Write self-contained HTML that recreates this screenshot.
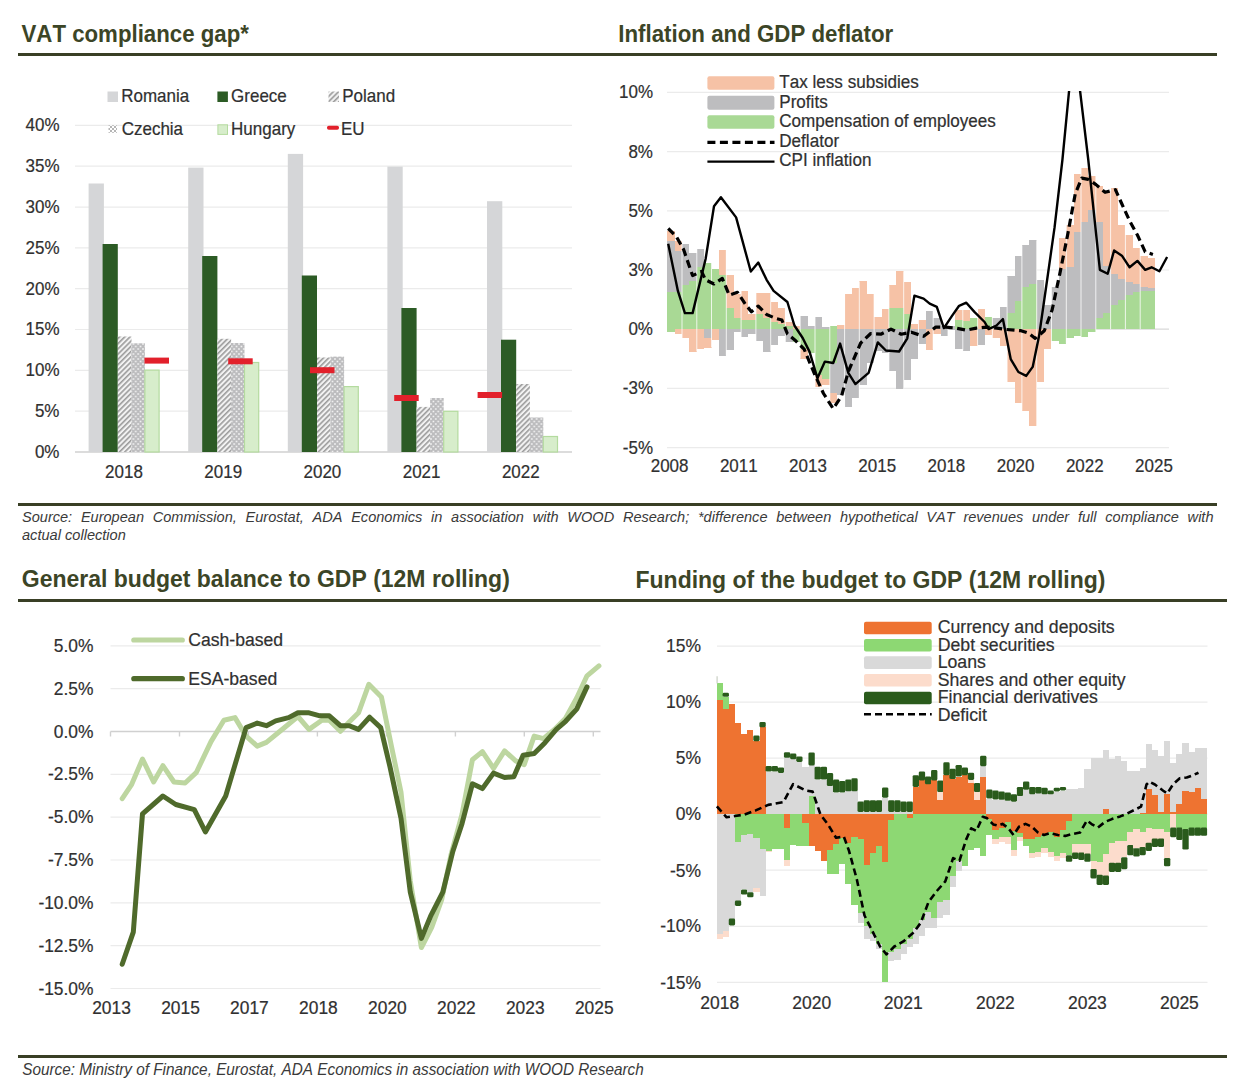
<!DOCTYPE html>
<html><head><meta charset="utf-8"><title>Charts</title>
<style>
html,body{margin:0;padding:0;background:#fff;}
body{width:1240px;height:1082px;position:relative;overflow:hidden;font-family:"Liberation Sans", Arial, sans-serif;}
svg{position:absolute;left:0;top:0;}
text,div{font-kerning:none;font-feature-settings:'kern' 0;}
.title{position:absolute;font-weight:bold;color:#3c4526;white-space:nowrap;line-height:1;}
.rule{position:absolute;height:3px;background:#393f25;}
.src{position:absolute;font-style:italic;color:#3a3a3a;}
</style></head><body>
<svg width="1240" height="1082" viewBox="0 0 1240 1082" font-family='"Liberation Sans", Arial, sans-serif'>
<text transform="translate(0 -1.88) scale(1 1.045)" x="21.5" y="41.8" font-size="22.25" text-anchor="start" fill="#3c4526" font-weight="bold" >VAT compliance gap*</text>
<defs>
<pattern id="pPol" patternUnits="userSpaceOnUse" width="3.7" height="3.7" patternTransform="rotate(-45)">
<rect width="3.7" height="3.7" fill="#f2f2f2"/><rect width="3.7" height="1.6" fill="#9c9c9c"/></pattern>
<pattern id="pCze" patternUnits="userSpaceOnUse" width="4.8" height="5">
<rect width="4.8" height="5" fill="#bcbcbe"/><rect x="0.6" y="0.7" width="1.6" height="1.6" fill="#f4f4f4"/><rect x="3" y="3.2" width="1.6" height="1.6" fill="#f4f4f4"/></pattern>
<pattern id="pCzeL" patternUnits="userSpaceOnUse" width="4" height="4">
<rect width="4" height="4" fill="#fff"/><rect width="2" height="2" fill="#b5b5b5"/><rect x="2" y="2" width="2" height="2" fill="#b5b5b5"/></pattern>
</defs>
<text transform="translate(0 -20.61) scale(1 1.045)" x="59.5" y="458.0" font-size="17" text-anchor="end" fill="#303030" stroke="#303030" stroke-width="0.2" >0%</text>
<line x1="75.0" y1="411.2" x2="572.0" y2="411.2" stroke="#ebebeb" stroke-width="1.2" />
<text transform="translate(0 -18.77) scale(1 1.045)" x="59.5" y="417.2" font-size="17" text-anchor="end" fill="#303030" stroke="#303030" stroke-width="0.2" >5%</text>
<line x1="75.0" y1="370.4" x2="572.0" y2="370.4" stroke="#ebebeb" stroke-width="1.2" />
<text transform="translate(0 -16.94) scale(1 1.045)" x="59.5" y="376.4" font-size="17" text-anchor="end" fill="#303030" stroke="#303030" stroke-width="0.2" >10%</text>
<line x1="75.0" y1="329.5" x2="572.0" y2="329.5" stroke="#ebebeb" stroke-width="1.2" />
<text transform="translate(0 -15.10) scale(1 1.045)" x="59.5" y="335.5" font-size="17" text-anchor="end" fill="#303030" stroke="#303030" stroke-width="0.2" >15%</text>
<line x1="75.0" y1="288.7" x2="572.0" y2="288.7" stroke="#ebebeb" stroke-width="1.2" />
<text transform="translate(0 -13.26) scale(1 1.045)" x="59.5" y="294.7" font-size="17" text-anchor="end" fill="#303030" stroke="#303030" stroke-width="0.2" >20%</text>
<line x1="75.0" y1="247.9" x2="572.0" y2="247.9" stroke="#ebebeb" stroke-width="1.2" />
<text transform="translate(0 -11.42) scale(1 1.045)" x="59.5" y="253.9" font-size="17" text-anchor="end" fill="#303030" stroke="#303030" stroke-width="0.2" >25%</text>
<line x1="75.0" y1="207.1" x2="572.0" y2="207.1" stroke="#ebebeb" stroke-width="1.2" />
<text transform="translate(0 -9.59) scale(1 1.045)" x="59.5" y="213.1" font-size="17" text-anchor="end" fill="#303030" stroke="#303030" stroke-width="0.2" >30%</text>
<line x1="75.0" y1="166.2" x2="572.0" y2="166.2" stroke="#ebebeb" stroke-width="1.2" />
<text transform="translate(0 -7.75) scale(1 1.045)" x="59.5" y="172.2" font-size="17" text-anchor="end" fill="#303030" stroke="#303030" stroke-width="0.2" >35%</text>
<line x1="75.0" y1="125.4" x2="572.0" y2="125.4" stroke="#ebebeb" stroke-width="1.2" />
<text transform="translate(0 -5.91) scale(1 1.045)" x="59.5" y="131.4" font-size="17" text-anchor="end" fill="#303030" stroke="#303030" stroke-width="0.2" >40%</text>
<line x1="75.0" y1="452.0" x2="572.0" y2="452.0" stroke="#d0d0d0" stroke-width="1.5" />
<rect x="88.60" y="183.50" width="15.30" height="268.50" fill="#d5d6d8" />
<rect x="102.60" y="244.00" width="15.20" height="208.00" fill="#2c5b25" />
<rect x="117.80" y="336.50" width="13.70" height="115.50" fill="url(#pPol)" />
<rect x="131.30" y="343.30" width="13.60" height="108.70" fill="url(#pCze)" />
<rect x="144.90" y="370.10" width="14.20" height="81.90" fill="#d7edcb" stroke="#b4db9f" stroke-width="1.2"/>
<rect x="144.50" y="357.60" width="24.50" height="6.00" fill="#e2202b" />
<text transform="translate(0 -21.51) scale(1 1.045)" x="124.0" y="478.0" font-size="17" text-anchor="middle" fill="#303030" stroke="#303030" stroke-width="0.2" >2018</text>
<rect x="188.20" y="167.60" width="15.30" height="284.40" fill="#d5d6d8" />
<rect x="202.20" y="256.00" width="15.20" height="196.00" fill="#2c5b25" />
<rect x="217.40" y="338.80" width="13.70" height="113.20" fill="url(#pPol)" />
<rect x="230.90" y="343.00" width="13.60" height="109.00" fill="url(#pCze)" />
<rect x="244.50" y="362.50" width="14.20" height="89.50" fill="#d7edcb" stroke="#b4db9f" stroke-width="1.2"/>
<rect x="228.20" y="358.30" width="24.50" height="6.00" fill="#e2202b" />
<text transform="translate(0 -21.51) scale(1 1.045)" x="223.2" y="478.0" font-size="17" text-anchor="middle" fill="#303030" stroke="#303030" stroke-width="0.2" >2019</text>
<rect x="287.80" y="153.90" width="15.30" height="298.10" fill="#d5d6d8" />
<rect x="301.80" y="275.50" width="15.20" height="176.50" fill="#2c5b25" />
<rect x="317.00" y="357.50" width="13.70" height="94.50" fill="url(#pPol)" />
<rect x="330.50" y="356.60" width="13.60" height="95.40" fill="url(#pCze)" />
<rect x="344.10" y="386.60" width="14.20" height="65.40" fill="#d7edcb" stroke="#b4db9f" stroke-width="1.2"/>
<rect x="310.00" y="367.20" width="24.50" height="6.00" fill="#e2202b" />
<text transform="translate(0 -21.51) scale(1 1.045)" x="322.4" y="478.0" font-size="17" text-anchor="middle" fill="#303030" stroke="#303030" stroke-width="0.2" >2020</text>
<rect x="387.40" y="166.60" width="15.30" height="285.40" fill="#d5d6d8" />
<rect x="401.40" y="308.00" width="15.20" height="144.00" fill="#2c5b25" />
<rect x="416.60" y="406.90" width="13.70" height="45.10" fill="url(#pPol)" />
<rect x="430.10" y="398.00" width="13.60" height="54.00" fill="url(#pCze)" />
<rect x="443.70" y="411.30" width="14.20" height="40.70" fill="#d7edcb" stroke="#b4db9f" stroke-width="1.2"/>
<rect x="394.20" y="395.00" width="24.50" height="6.00" fill="#e2202b" />
<text transform="translate(0 -21.51) scale(1 1.045)" x="421.6" y="478.0" font-size="17" text-anchor="middle" fill="#303030" stroke="#303030" stroke-width="0.2" >2021</text>
<rect x="487.00" y="201.20" width="15.30" height="250.80" fill="#d5d6d8" />
<rect x="501.00" y="339.70" width="15.20" height="112.30" fill="#2c5b25" />
<rect x="516.20" y="384.00" width="13.70" height="68.00" fill="url(#pPol)" />
<rect x="529.70" y="417.50" width="13.60" height="34.50" fill="url(#pCze)" />
<rect x="543.30" y="436.50" width="14.20" height="15.50" fill="#d7edcb" stroke="#b4db9f" stroke-width="1.2"/>
<rect x="477.60" y="392.00" width="24.50" height="6.00" fill="#e2202b" />
<text transform="translate(0 -21.51) scale(1 1.045)" x="520.8" y="478.0" font-size="17" text-anchor="middle" fill="#303030" stroke="#303030" stroke-width="0.2" >2022</text>
<rect x="107.50" y="91.50" width="10.50" height="10.50" fill="#d5d6d8" />
<text transform="translate(0 -4.59) scale(1 1.045)" x="121.2" y="101.9" font-size="17" text-anchor="start" fill="#303030" stroke="#303030" stroke-width="0.2" >Romania</text>
<rect x="217.40" y="91.50" width="10.50" height="10.50" fill="#2c5b25" />
<text transform="translate(0 -4.59) scale(1 1.045)" x="231.1" y="101.9" font-size="17" text-anchor="start" fill="#303030" stroke="#303030" stroke-width="0.2" >Greece</text>
<rect x="328.50" y="91.50" width="10.50" height="10.50" fill="url(#pPol)" />
<text transform="translate(0 -4.59) scale(1 1.045)" x="342.2" y="101.9" font-size="17" text-anchor="start" fill="#303030" stroke="#303030" stroke-width="0.2" >Poland</text>
<rect x="108.50" y="125.30" width="8.50" height="7.50" fill="url(#pCzeL)" />
<text transform="translate(0 -6.06) scale(1 1.045)" x="121.7" y="134.7" font-size="17" text-anchor="start" fill="#303030" stroke="#303030" stroke-width="0.2" >Czechia</text>
<rect x="217.90" y="124.80" width="9.60" height="9.60" fill="#d7edcb" stroke="#b4db9f" stroke-width="1"/>
<text transform="translate(0 -6.06) scale(1 1.045)" x="231.1" y="134.7" font-size="17" text-anchor="start" fill="#303030" stroke="#303030" stroke-width="0.2" >Hungary</text>
<rect x="327.00" y="125.80" width="12.00" height="4.00" fill="#e2202b" rx="1.8"/>
<text transform="translate(0 -6.06) scale(1 1.045)" x="341.0" y="134.7" font-size="17" text-anchor="start" fill="#303030" stroke="#303030" stroke-width="0.2" >EU</text>
<text transform="translate(0 -1.88) scale(1 1.045)" x="618.3" y="41.8" font-size="22.3" text-anchor="start" fill="#3c4526" font-weight="bold" >Inflation and GDP deflator</text>
<line x1="667.0" y1="92.4" x2="1169.0" y2="92.4" stroke="#ebebeb" stroke-width="1.2" />
<text transform="translate(0 -4.43) scale(1 1.045)" x="653.0" y="98.4" font-size="17" text-anchor="end" fill="#303030" stroke="#303030" stroke-width="0.2" >10%</text>
<line x1="667.0" y1="151.6" x2="1169.0" y2="151.6" stroke="#ebebeb" stroke-width="1.2" />
<text transform="translate(0 -7.09) scale(1 1.045)" x="653.0" y="157.6" font-size="17" text-anchor="end" fill="#303030" stroke="#303030" stroke-width="0.2" >8%</text>
<line x1="667.0" y1="210.8" x2="1169.0" y2="210.8" stroke="#ebebeb" stroke-width="1.2" />
<text transform="translate(0 -9.76) scale(1 1.045)" x="653.0" y="216.8" font-size="17" text-anchor="end" fill="#303030" stroke="#303030" stroke-width="0.2" >5%</text>
<line x1="667.0" y1="270.0" x2="1169.0" y2="270.0" stroke="#ebebeb" stroke-width="1.2" />
<text transform="translate(0 -12.42) scale(1 1.045)" x="653.0" y="276.0" font-size="17" text-anchor="end" fill="#303030" stroke="#303030" stroke-width="0.2" >3%</text>
<line x1="667.0" y1="329.2" x2="1169.0" y2="329.2" stroke="#d9d9d9" stroke-width="1.2" />
<text transform="translate(0 -15.08) scale(1 1.045)" x="653.0" y="335.2" font-size="17" text-anchor="end" fill="#303030" stroke="#303030" stroke-width="0.2" >0%</text>
<line x1="667.0" y1="388.4" x2="1169.0" y2="388.4" stroke="#ebebeb" stroke-width="1.2" />
<text transform="translate(0 -17.75) scale(1 1.045)" x="653.0" y="394.4" font-size="17" text-anchor="end" fill="#303030" stroke="#303030" stroke-width="0.2" >-3%</text>
<line x1="667.0" y1="447.6" x2="1169.0" y2="447.6" stroke="#ebebeb" stroke-width="1.2" />
<text transform="translate(0 -20.41) scale(1 1.045)" x="653.0" y="453.6" font-size="17" text-anchor="end" fill="#303030" stroke="#303030" stroke-width="0.2" >-5%</text>
<text transform="translate(0 -21.23) scale(1 1.045)" x="669.6" y="471.8" font-size="17" text-anchor="middle" fill="#303030" stroke="#303030" stroke-width="0.2" >2008</text>
<text transform="translate(0 -21.23) scale(1 1.045)" x="738.8" y="471.8" font-size="17" text-anchor="middle" fill="#303030" stroke="#303030" stroke-width="0.2" >2011</text>
<text transform="translate(0 -21.23) scale(1 1.045)" x="808.0" y="471.8" font-size="17" text-anchor="middle" fill="#303030" stroke="#303030" stroke-width="0.2" >2013</text>
<text transform="translate(0 -21.23) scale(1 1.045)" x="877.2" y="471.8" font-size="17" text-anchor="middle" fill="#303030" stroke="#303030" stroke-width="0.2" >2015</text>
<text transform="translate(0 -21.23) scale(1 1.045)" x="946.4" y="471.8" font-size="17" text-anchor="middle" fill="#303030" stroke="#303030" stroke-width="0.2" >2018</text>
<text transform="translate(0 -21.23) scale(1 1.045)" x="1015.6" y="471.8" font-size="17" text-anchor="middle" fill="#303030" stroke="#303030" stroke-width="0.2" >2020</text>
<text transform="translate(0 -21.23) scale(1 1.045)" x="1084.8" y="471.8" font-size="17" text-anchor="middle" fill="#303030" stroke="#303030" stroke-width="0.2" >2022</text>
<text transform="translate(0 -21.23) scale(1 1.045)" x="1154.0" y="471.8" font-size="17" text-anchor="middle" fill="#303030" stroke="#303030" stroke-width="0.2" >2025</text>
<rect x="667.20" y="291.50" width="7.39" height="37.70" fill="#a9d995" shape-rendering="crispEdges"/>
<rect x="667.20" y="240.70" width="7.39" height="50.80" fill="#bdbdbf" shape-rendering="crispEdges"/>
<rect x="667.20" y="230.50" width="7.39" height="10.20" fill="#f6c2a6" shape-rendering="crispEdges"/>
<rect x="667.20" y="329.20" width="7.39" height="3.00" fill="#a9d995" shape-rendering="crispEdges"/>
<rect x="674.59" y="291.50" width="7.39" height="37.70" fill="#a9d995" shape-rendering="crispEdges"/>
<rect x="674.59" y="250.80" width="7.39" height="40.70" fill="#bdbdbf" shape-rendering="crispEdges"/>
<rect x="674.59" y="240.70" width="7.39" height="10.10" fill="#f6c2a6" shape-rendering="crispEdges"/>
<rect x="674.59" y="329.20" width="7.39" height="5.00" fill="#f6c2a6" shape-rendering="crispEdges"/>
<rect x="681.98" y="285.40" width="7.39" height="43.80" fill="#a9d995" shape-rendering="crispEdges"/>
<rect x="681.98" y="243.70" width="7.39" height="41.70" fill="#bdbdbf" shape-rendering="crispEdges"/>
<rect x="681.98" y="329.20" width="7.39" height="9.10" fill="#f6c2a6" shape-rendering="crispEdges"/>
<rect x="689.37" y="281.30" width="7.39" height="47.90" fill="#a9d995" shape-rendering="crispEdges"/>
<rect x="689.37" y="252.90" width="7.39" height="28.40" fill="#bdbdbf" shape-rendering="crispEdges"/>
<rect x="689.37" y="329.20" width="7.39" height="22.30" fill="#f6c2a6" shape-rendering="crispEdges"/>
<rect x="696.76" y="267.10" width="7.39" height="62.10" fill="#a9d995" shape-rendering="crispEdges"/>
<rect x="696.76" y="248.80" width="7.39" height="18.30" fill="#bdbdbf" shape-rendering="crispEdges"/>
<rect x="696.76" y="329.20" width="7.39" height="19.30" fill="#f6c2a6" shape-rendering="crispEdges"/>
<rect x="704.15" y="263.00" width="7.39" height="66.20" fill="#a9d995" shape-rendering="crispEdges"/>
<rect x="704.15" y="329.20" width="7.39" height="9.10" fill="#bdbdbf" shape-rendering="crispEdges"/>
<rect x="704.15" y="338.30" width="7.39" height="9.20" fill="#f6c2a6" shape-rendering="crispEdges"/>
<rect x="711.54" y="269.10" width="7.39" height="60.10" fill="#a9d995" shape-rendering="crispEdges"/>
<rect x="711.54" y="329.20" width="7.39" height="11.10" fill="#f6c2a6" shape-rendering="crispEdges"/>
<rect x="718.93" y="275.20" width="7.39" height="54.00" fill="#a9d995" shape-rendering="crispEdges"/>
<rect x="718.93" y="249.80" width="7.39" height="25.40" fill="#f6c2a6" shape-rendering="crispEdges"/>
<rect x="718.93" y="329.20" width="7.39" height="26.40" fill="#bdbdbf" shape-rendering="crispEdges"/>
<rect x="726.32" y="307.80" width="7.39" height="21.40" fill="#a9d995" shape-rendering="crispEdges"/>
<rect x="726.32" y="275.20" width="7.39" height="32.60" fill="#f6c2a6" shape-rendering="crispEdges"/>
<rect x="726.32" y="329.20" width="7.39" height="20.30" fill="#bdbdbf" shape-rendering="crispEdges"/>
<rect x="733.71" y="318.00" width="7.39" height="11.20" fill="#a9d995" shape-rendering="crispEdges"/>
<rect x="733.71" y="293.60" width="7.39" height="24.40" fill="#f6c2a6" shape-rendering="crispEdges"/>
<rect x="733.71" y="329.20" width="7.39" height="3.00" fill="#bdbdbf" shape-rendering="crispEdges"/>
<rect x="741.10" y="320.00" width="7.39" height="9.20" fill="#a9d995" shape-rendering="crispEdges"/>
<rect x="741.10" y="290.50" width="7.39" height="29.50" fill="#f6c2a6" shape-rendering="crispEdges"/>
<rect x="741.10" y="329.20" width="7.39" height="8.10" fill="#bdbdbf" shape-rendering="crispEdges"/>
<rect x="748.49" y="320.00" width="7.39" height="9.20" fill="#a9d995" shape-rendering="crispEdges"/>
<rect x="748.49" y="313.90" width="7.39" height="6.10" fill="#f6c2a6" shape-rendering="crispEdges"/>
<rect x="748.49" y="329.20" width="7.39" height="5.00" fill="#bdbdbf" shape-rendering="crispEdges"/>
<rect x="755.88" y="313.90" width="7.39" height="15.30" fill="#a9d995" shape-rendering="crispEdges"/>
<rect x="755.88" y="292.50" width="7.39" height="21.40" fill="#f6c2a6" shape-rendering="crispEdges"/>
<rect x="755.88" y="329.20" width="7.39" height="12.10" fill="#bdbdbf" shape-rendering="crispEdges"/>
<rect x="763.27" y="318.00" width="7.39" height="11.20" fill="#a9d995" shape-rendering="crispEdges"/>
<rect x="763.27" y="292.50" width="7.39" height="25.50" fill="#f6c2a6" shape-rendering="crispEdges"/>
<rect x="763.27" y="329.20" width="7.39" height="22.30" fill="#bdbdbf" shape-rendering="crispEdges"/>
<rect x="770.66" y="322.00" width="7.39" height="7.20" fill="#a9d995" shape-rendering="crispEdges"/>
<rect x="770.66" y="301.70" width="7.39" height="20.30" fill="#f6c2a6" shape-rendering="crispEdges"/>
<rect x="770.66" y="329.20" width="7.39" height="16.20" fill="#bdbdbf" shape-rendering="crispEdges"/>
<rect x="778.05" y="324.00" width="7.39" height="5.20" fill="#a9d995" shape-rendering="crispEdges"/>
<rect x="778.05" y="307.80" width="7.39" height="16.20" fill="#f6c2a6" shape-rendering="crispEdges"/>
<rect x="778.05" y="329.20" width="7.39" height="7.10" fill="#bdbdbf" shape-rendering="crispEdges"/>
<rect x="785.44" y="326.10" width="7.39" height="3.10" fill="#a9d995" shape-rendering="crispEdges"/>
<rect x="785.44" y="322.00" width="7.39" height="4.10" fill="#f6c2a6" shape-rendering="crispEdges"/>
<rect x="785.44" y="329.20" width="7.39" height="13.20" fill="#bdbdbf" shape-rendering="crispEdges"/>
<rect x="792.83" y="326.10" width="7.39" height="3.10" fill="#f6c2a6" shape-rendering="crispEdges"/>
<rect x="792.83" y="329.20" width="7.39" height="13.20" fill="#a9d995" shape-rendering="crispEdges"/>
<rect x="800.22" y="315.90" width="7.39" height="13.30" fill="#bdbdbf" shape-rendering="crispEdges"/>
<rect x="800.22" y="329.20" width="7.39" height="19.30" fill="#a9d995" shape-rendering="crispEdges"/>
<rect x="800.22" y="348.50" width="7.39" height="10.10" fill="#f6c2a6" shape-rendering="crispEdges"/>
<rect x="807.61" y="326.10" width="7.39" height="3.10" fill="#bdbdbf" shape-rendering="crispEdges"/>
<rect x="807.61" y="329.20" width="7.39" height="23.30" fill="#a9d995" shape-rendering="crispEdges"/>
<rect x="815.00" y="316.90" width="7.39" height="12.30" fill="#bdbdbf" shape-rendering="crispEdges"/>
<rect x="815.00" y="329.20" width="7.39" height="45.70" fill="#a9d995" shape-rendering="crispEdges"/>
<rect x="815.00" y="374.90" width="7.39" height="12.20" fill="#f6c2a6" shape-rendering="crispEdges"/>
<rect x="822.39" y="327.10" width="7.39" height="2.10" fill="#bdbdbf" shape-rendering="crispEdges"/>
<rect x="822.39" y="329.20" width="7.39" height="49.80" fill="#a9d995" shape-rendering="crispEdges"/>
<rect x="822.39" y="379.00" width="7.39" height="6.10" fill="#f6c2a6" shape-rendering="crispEdges"/>
<rect x="829.78" y="326.10" width="7.39" height="3.10" fill="#a9d995" shape-rendering="crispEdges"/>
<rect x="829.78" y="329.20" width="7.39" height="33.50" fill="#a9d995" shape-rendering="crispEdges"/>
<rect x="829.78" y="362.70" width="7.39" height="30.50" fill="#bdbdbf" shape-rendering="crispEdges"/>
<rect x="829.78" y="393.20" width="7.39" height="10.20" fill="#f6c2a6" shape-rendering="crispEdges"/>
<rect x="837.17" y="325.10" width="7.39" height="4.10" fill="#f6c2a6" shape-rendering="crispEdges"/>
<rect x="837.17" y="329.20" width="7.39" height="66.00" fill="#bdbdbf" shape-rendering="crispEdges"/>
<rect x="844.56" y="293.60" width="7.39" height="35.60" fill="#f6c2a6" shape-rendering="crispEdges"/>
<rect x="844.56" y="329.20" width="7.39" height="78.20" fill="#bdbdbf" shape-rendering="crispEdges"/>
<rect x="851.95" y="287.50" width="7.39" height="41.70" fill="#f6c2a6" shape-rendering="crispEdges"/>
<rect x="851.95" y="329.20" width="7.39" height="69.10" fill="#bdbdbf" shape-rendering="crispEdges"/>
<rect x="859.34" y="281.40" width="7.39" height="47.80" fill="#f6c2a6" shape-rendering="crispEdges"/>
<rect x="859.34" y="329.20" width="7.39" height="55.90" fill="#bdbdbf" shape-rendering="crispEdges"/>
<rect x="866.73" y="293.60" width="7.39" height="35.60" fill="#f6c2a6" shape-rendering="crispEdges"/>
<rect x="866.73" y="329.20" width="7.39" height="33.50" fill="#bdbdbf" shape-rendering="crispEdges"/>
<rect x="874.12" y="316.90" width="7.39" height="12.30" fill="#f6c2a6" shape-rendering="crispEdges"/>
<rect x="874.12" y="329.20" width="7.39" height="21.30" fill="#bdbdbf" shape-rendering="crispEdges"/>
<rect x="881.51" y="308.80" width="7.39" height="20.40" fill="#f6c2a6" shape-rendering="crispEdges"/>
<rect x="881.51" y="329.20" width="7.39" height="23.30" fill="#bdbdbf" shape-rendering="crispEdges"/>
<rect x="888.90" y="307.80" width="7.39" height="21.40" fill="#a9d995" shape-rendering="crispEdges"/>
<rect x="888.90" y="285.40" width="7.39" height="22.40" fill="#f6c2a6" shape-rendering="crispEdges"/>
<rect x="888.90" y="329.20" width="7.39" height="41.60" fill="#bdbdbf" shape-rendering="crispEdges"/>
<rect x="896.29" y="307.80" width="7.39" height="21.40" fill="#a9d995" shape-rendering="crispEdges"/>
<rect x="896.29" y="271.20" width="7.39" height="36.60" fill="#f6c2a6" shape-rendering="crispEdges"/>
<rect x="896.29" y="329.20" width="7.39" height="59.90" fill="#bdbdbf" shape-rendering="crispEdges"/>
<rect x="903.68" y="313.90" width="7.39" height="15.30" fill="#a9d995" shape-rendering="crispEdges"/>
<rect x="903.68" y="282.40" width="7.39" height="31.50" fill="#f6c2a6" shape-rendering="crispEdges"/>
<rect x="903.68" y="329.20" width="7.39" height="50.80" fill="#bdbdbf" shape-rendering="crispEdges"/>
<rect x="911.07" y="324.10" width="7.39" height="5.10" fill="#f6c2a6" shape-rendering="crispEdges"/>
<rect x="911.07" y="329.20" width="7.39" height="29.40" fill="#bdbdbf" shape-rendering="crispEdges"/>
<rect x="918.46" y="320.00" width="7.39" height="9.20" fill="#f6c2a6" shape-rendering="crispEdges"/>
<rect x="918.46" y="329.20" width="7.39" height="15.20" fill="#bdbdbf" shape-rendering="crispEdges"/>
<rect x="925.85" y="310.80" width="7.39" height="18.40" fill="#bdbdbf" shape-rendering="crispEdges"/>
<rect x="925.85" y="329.20" width="7.39" height="20.30" fill="#f6c2a6" shape-rendering="crispEdges"/>
<rect x="933.24" y="318.00" width="7.39" height="11.20" fill="#bdbdbf" shape-rendering="crispEdges"/>
<rect x="933.24" y="329.20" width="7.39" height="5.00" fill="#f6c2a6" shape-rendering="crispEdges"/>
<rect x="940.63" y="326.10" width="7.39" height="3.10" fill="#bdbdbf" shape-rendering="crispEdges"/>
<rect x="940.63" y="329.20" width="7.39" height="7.10" fill="#bdbdbf" shape-rendering="crispEdges"/>
<rect x="948.02" y="326.10" width="7.39" height="3.10" fill="#bdbdbf" shape-rendering="crispEdges"/>
<rect x="948.02" y="329.20" width="7.39" height="1.00" fill="#bdbdbf" shape-rendering="crispEdges"/>
<rect x="955.41" y="320.00" width="7.39" height="9.20" fill="#a9d995" shape-rendering="crispEdges"/>
<rect x="955.41" y="309.80" width="7.39" height="10.20" fill="#f6c2a6" shape-rendering="crispEdges"/>
<rect x="955.41" y="329.20" width="7.39" height="19.30" fill="#bdbdbf" shape-rendering="crispEdges"/>
<rect x="962.80" y="321.00" width="7.39" height="8.20" fill="#a9d995" shape-rendering="crispEdges"/>
<rect x="962.80" y="309.80" width="7.39" height="11.20" fill="#f6c2a6" shape-rendering="crispEdges"/>
<rect x="962.80" y="329.20" width="7.39" height="21.30" fill="#bdbdbf" shape-rendering="crispEdges"/>
<rect x="970.19" y="318.00" width="7.39" height="11.20" fill="#a9d995" shape-rendering="crispEdges"/>
<rect x="970.19" y="329.20" width="7.39" height="17.20" fill="#f6c2a6" shape-rendering="crispEdges"/>
<rect x="977.58" y="308.80" width="7.39" height="20.40" fill="#f6c2a6" shape-rendering="crispEdges"/>
<rect x="977.58" y="329.20" width="7.39" height="16.20" fill="#bdbdbf" shape-rendering="crispEdges"/>
<rect x="984.97" y="316.90" width="7.39" height="12.30" fill="#a9d995" shape-rendering="crispEdges"/>
<rect x="984.97" y="329.20" width="7.39" height="6.00" fill="#f6c2a6" shape-rendering="crispEdges"/>
<rect x="992.36" y="317.70" width="7.39" height="11.50" fill="#bdbdbf" shape-rendering="crispEdges"/>
<rect x="992.36" y="329.20" width="7.39" height="9.20" fill="#f6c2a6" shape-rendering="crispEdges"/>
<rect x="999.75" y="307.40" width="7.39" height="21.80" fill="#bdbdbf" shape-rendering="crispEdges"/>
<rect x="999.75" y="329.20" width="7.39" height="17.00" fill="#f6c2a6" shape-rendering="crispEdges"/>
<rect x="1007.14" y="312.60" width="7.39" height="16.60" fill="#a9d995" shape-rendering="crispEdges"/>
<rect x="1007.14" y="276.40" width="7.39" height="36.20" fill="#bdbdbf" shape-rendering="crispEdges"/>
<rect x="1007.14" y="329.20" width="7.39" height="53.20" fill="#f6c2a6" shape-rendering="crispEdges"/>
<rect x="1014.53" y="300.90" width="7.39" height="28.30" fill="#a9d995" shape-rendering="crispEdges"/>
<rect x="1014.53" y="255.70" width="7.39" height="45.20" fill="#bdbdbf" shape-rendering="crispEdges"/>
<rect x="1014.53" y="329.20" width="7.39" height="73.90" fill="#f6c2a6" shape-rendering="crispEdges"/>
<rect x="1021.92" y="286.70" width="7.39" height="42.50" fill="#a9d995" shape-rendering="crispEdges"/>
<rect x="1021.92" y="245.30" width="7.39" height="41.40" fill="#bdbdbf" shape-rendering="crispEdges"/>
<rect x="1021.92" y="329.20" width="7.39" height="81.60" fill="#f6c2a6" shape-rendering="crispEdges"/>
<rect x="1029.31" y="284.10" width="7.39" height="45.10" fill="#a9d995" shape-rendering="crispEdges"/>
<rect x="1029.31" y="240.20" width="7.39" height="43.90" fill="#bdbdbf" shape-rendering="crispEdges"/>
<rect x="1029.31" y="329.20" width="7.39" height="97.20" fill="#f6c2a6" shape-rendering="crispEdges"/>
<rect x="1036.70" y="280.20" width="7.39" height="49.00" fill="#bdbdbf" shape-rendering="crispEdges"/>
<rect x="1036.70" y="329.20" width="7.39" height="53.20" fill="#f6c2a6" shape-rendering="crispEdges"/>
<rect x="1044.09" y="304.80" width="7.39" height="24.40" fill="#bdbdbf" shape-rendering="crispEdges"/>
<rect x="1044.09" y="329.20" width="7.39" height="19.60" fill="#f6c2a6" shape-rendering="crispEdges"/>
<rect x="1051.48" y="286.70" width="7.39" height="42.50" fill="#bdbdbf" shape-rendering="crispEdges"/>
<rect x="1051.48" y="329.20" width="7.39" height="11.80" fill="#a9d995" shape-rendering="crispEdges"/>
<rect x="1058.87" y="268.60" width="7.39" height="60.60" fill="#bdbdbf" shape-rendering="crispEdges"/>
<rect x="1058.87" y="237.60" width="7.39" height="31.00" fill="#f6c2a6" shape-rendering="crispEdges"/>
<rect x="1058.87" y="329.20" width="7.39" height="14.40" fill="#a9d995" shape-rendering="crispEdges"/>
<rect x="1066.26" y="267.30" width="7.39" height="61.90" fill="#bdbdbf" shape-rendering="crispEdges"/>
<rect x="1066.26" y="224.60" width="7.39" height="42.70" fill="#f6c2a6" shape-rendering="crispEdges"/>
<rect x="1066.26" y="329.20" width="7.39" height="9.20" fill="#a9d995" shape-rendering="crispEdges"/>
<rect x="1073.65" y="232.40" width="7.39" height="96.80" fill="#bdbdbf" shape-rendering="crispEdges"/>
<rect x="1073.65" y="174.20" width="7.39" height="58.20" fill="#f6c2a6" shape-rendering="crispEdges"/>
<rect x="1073.65" y="329.20" width="7.39" height="6.60" fill="#a9d995" shape-rendering="crispEdges"/>
<rect x="1081.04" y="222.10" width="7.39" height="107.10" fill="#bdbdbf" shape-rendering="crispEdges"/>
<rect x="1081.04" y="167.80" width="7.39" height="54.30" fill="#f6c2a6" shape-rendering="crispEdges"/>
<rect x="1081.04" y="329.20" width="7.39" height="7.90" fill="#a9d995" shape-rendering="crispEdges"/>
<rect x="1088.43" y="210.40" width="7.39" height="118.80" fill="#bdbdbf" shape-rendering="crispEdges"/>
<rect x="1088.43" y="175.50" width="7.39" height="34.90" fill="#f6c2a6" shape-rendering="crispEdges"/>
<rect x="1088.43" y="329.20" width="7.39" height="2.80" fill="#a9d995" shape-rendering="crispEdges"/>
<rect x="1095.82" y="317.70" width="7.39" height="11.50" fill="#a9d995" shape-rendering="crispEdges"/>
<rect x="1095.82" y="222.10" width="7.39" height="95.60" fill="#bdbdbf" shape-rendering="crispEdges"/>
<rect x="1095.82" y="185.90" width="7.39" height="36.20" fill="#f6c2a6" shape-rendering="crispEdges"/>
<rect x="1103.21" y="312.60" width="7.39" height="16.60" fill="#a9d995" shape-rendering="crispEdges"/>
<rect x="1103.21" y="266.00" width="7.39" height="46.60" fill="#bdbdbf" shape-rendering="crispEdges"/>
<rect x="1103.21" y="191.00" width="7.39" height="75.00" fill="#f6c2a6" shape-rendering="crispEdges"/>
<rect x="1110.60" y="304.80" width="7.39" height="24.40" fill="#a9d995" shape-rendering="crispEdges"/>
<rect x="1110.60" y="273.80" width="7.39" height="31.00" fill="#bdbdbf" shape-rendering="crispEdges"/>
<rect x="1110.60" y="188.40" width="7.39" height="85.40" fill="#f6c2a6" shape-rendering="crispEdges"/>
<rect x="1117.99" y="299.60" width="7.39" height="29.60" fill="#a9d995" shape-rendering="crispEdges"/>
<rect x="1117.99" y="279.00" width="7.39" height="20.60" fill="#bdbdbf" shape-rendering="crispEdges"/>
<rect x="1117.99" y="224.60" width="7.39" height="54.40" fill="#f6c2a6" shape-rendering="crispEdges"/>
<rect x="1125.38" y="294.50" width="7.39" height="34.70" fill="#a9d995" shape-rendering="crispEdges"/>
<rect x="1125.38" y="281.50" width="7.39" height="13.00" fill="#bdbdbf" shape-rendering="crispEdges"/>
<rect x="1125.38" y="235.00" width="7.39" height="46.50" fill="#f6c2a6" shape-rendering="crispEdges"/>
<rect x="1132.77" y="291.90" width="7.39" height="37.30" fill="#a9d995" shape-rendering="crispEdges"/>
<rect x="1132.77" y="284.10" width="7.39" height="7.80" fill="#bdbdbf" shape-rendering="crispEdges"/>
<rect x="1132.77" y="247.90" width="7.39" height="36.20" fill="#f6c2a6" shape-rendering="crispEdges"/>
<rect x="1140.16" y="290.60" width="7.39" height="38.60" fill="#a9d995" shape-rendering="crispEdges"/>
<rect x="1140.16" y="286.70" width="7.39" height="3.90" fill="#bdbdbf" shape-rendering="crispEdges"/>
<rect x="1140.16" y="255.70" width="7.39" height="31.00" fill="#f6c2a6" shape-rendering="crispEdges"/>
<rect x="1147.55" y="290.60" width="7.39" height="38.60" fill="#a9d995" shape-rendering="crispEdges"/>
<rect x="1147.55" y="288.00" width="7.39" height="2.60" fill="#bdbdbf" shape-rendering="crispEdges"/>
<rect x="1147.55" y="258.30" width="7.39" height="29.70" fill="#f6c2a6" shape-rendering="crispEdges"/>
<line x1="682.0" y1="240.7" x2="682.0" y2="338.3" stroke="#ffffff" stroke-width="1" opacity="0.8"/>
<line x1="696.8" y1="248.8" x2="696.8" y2="351.5" stroke="#ffffff" stroke-width="1" opacity="0.8"/>
<line x1="711.5" y1="263.0" x2="711.5" y2="347.5" stroke="#ffffff" stroke-width="1" opacity="0.8"/>
<line x1="726.3" y1="249.8" x2="726.3" y2="355.6" stroke="#ffffff" stroke-width="1" opacity="0.8"/>
<line x1="741.1" y1="290.5" x2="741.1" y2="337.3" stroke="#ffffff" stroke-width="1" opacity="0.8"/>
<line x1="755.9" y1="292.5" x2="755.9" y2="341.3" stroke="#ffffff" stroke-width="1" opacity="0.8"/>
<line x1="770.7" y1="292.5" x2="770.7" y2="351.5" stroke="#ffffff" stroke-width="1" opacity="0.8"/>
<line x1="785.4" y1="307.8" x2="785.4" y2="342.4" stroke="#ffffff" stroke-width="1" opacity="0.8"/>
<line x1="800.2" y1="315.9" x2="800.2" y2="358.6" stroke="#ffffff" stroke-width="1" opacity="0.8"/>
<line x1="815.0" y1="316.9" x2="815.0" y2="387.1" stroke="#ffffff" stroke-width="1" opacity="0.8"/>
<line x1="829.8" y1="326.1" x2="829.8" y2="403.4" stroke="#ffffff" stroke-width="1" opacity="0.8"/>
<line x1="844.6" y1="293.6" x2="844.6" y2="407.4" stroke="#ffffff" stroke-width="1" opacity="0.8"/>
<line x1="859.3" y1="281.4" x2="859.3" y2="398.3" stroke="#ffffff" stroke-width="1" opacity="0.8"/>
<line x1="874.1" y1="293.6" x2="874.1" y2="362.7" stroke="#ffffff" stroke-width="1" opacity="0.8"/>
<line x1="888.9" y1="285.4" x2="888.9" y2="370.8" stroke="#ffffff" stroke-width="1" opacity="0.8"/>
<line x1="903.7" y1="271.2" x2="903.7" y2="389.1" stroke="#ffffff" stroke-width="1" opacity="0.8"/>
<line x1="918.5" y1="320.0" x2="918.5" y2="358.6" stroke="#ffffff" stroke-width="1" opacity="0.8"/>
<line x1="933.2" y1="310.8" x2="933.2" y2="349.5" stroke="#ffffff" stroke-width="1" opacity="0.8"/>
<line x1="948.0" y1="326.1" x2="948.0" y2="336.3" stroke="#ffffff" stroke-width="1" opacity="0.8"/>
<line x1="962.8" y1="309.8" x2="962.8" y2="350.5" stroke="#ffffff" stroke-width="1" opacity="0.8"/>
<line x1="977.6" y1="308.8" x2="977.6" y2="346.4" stroke="#ffffff" stroke-width="1" opacity="0.8"/>
<line x1="992.4" y1="316.9" x2="992.4" y2="338.4" stroke="#ffffff" stroke-width="1" opacity="0.8"/>
<line x1="1007.1" y1="276.4" x2="1007.1" y2="382.4" stroke="#ffffff" stroke-width="1" opacity="0.8"/>
<line x1="1021.9" y1="245.3" x2="1021.9" y2="410.8" stroke="#ffffff" stroke-width="1" opacity="0.8"/>
<line x1="1036.7" y1="240.2" x2="1036.7" y2="426.4" stroke="#ffffff" stroke-width="1" opacity="0.8"/>
<line x1="1051.5" y1="286.7" x2="1051.5" y2="348.8" stroke="#ffffff" stroke-width="1" opacity="0.8"/>
<line x1="1066.3" y1="224.6" x2="1066.3" y2="343.6" stroke="#ffffff" stroke-width="1" opacity="0.8"/>
<line x1="1081.0" y1="167.8" x2="1081.0" y2="337.1" stroke="#ffffff" stroke-width="1" opacity="0.8"/>
<line x1="1095.8" y1="175.5" x2="1095.8" y2="332.0" stroke="#ffffff" stroke-width="1" opacity="0.8"/>
<line x1="1110.6" y1="188.4" x2="1110.6" y2="329.2" stroke="#ffffff" stroke-width="1" opacity="0.8"/>
<line x1="1125.4" y1="224.6" x2="1125.4" y2="329.2" stroke="#ffffff" stroke-width="1" opacity="0.8"/>
<line x1="1140.2" y1="247.9" x2="1140.2" y2="329.2" stroke="#ffffff" stroke-width="1" opacity="0.8"/>
<clipPath id="c2"><rect x="600" y="91" width="600" height="380"/></clipPath>
<polyline points="668.2,228.5 676.5,236.8 683.5,249.3 692.6,275.6 701.5,271.5 705.6,279.8 714.0,284.0 722.3,278.4 729.2,295.1 737.5,292.3 745.8,304.8 751.4,311.7 758.3,306.1 766.6,314.5 776.3,318.6 781.9,320.0 787.4,333.9 795.7,340.8 804.1,349.1 815.2,375.5 823.5,393.5 833.2,408.7 841.5,396.2 848.4,371.3 860.7,343.0 870.7,333.5 880.8,334.2 891.0,329.1 901.2,334.2 911.3,332.2 923.6,336.3 935.8,327.1 945.9,327.1 956.1,328.1 966.3,330.2 976.4,328.1 986.6,327.1 996.8,328.1 1005.5,329.4 1021.0,330.7 1028.8,333.3 1035.3,338.4 1044.3,330.7 1052.1,310.0 1059.8,273.8 1067.6,235.0 1075.3,193.6 1081.8,178.1 1088.3,179.4 1096.0,184.6 1105.1,192.3 1115.4,189.7 1121.9,204.0 1129.6,220.8 1137.4,235.0 1145.2,251.8 1152.9,254.4" fill="none" stroke="#000" stroke-width="3.2" stroke-linejoin="round" stroke-dasharray="8,4.5"/>
<polyline points="668.2,243.8 677.9,290.9 684.9,313.1 692.6,313.1 705.6,259.0 714.0,206.3 720.9,197.2 736.1,217.4 750.8,271.5 758.3,262.6 766.6,279.8 773.6,290.9 787.4,302.0 794.4,325.5 802.7,338.0 809.6,351.9 817.4,378.2 824.9,361.6 833.2,363.0 840.1,343.6 848.3,372.9 855.4,384.1 868.6,372.9 877.8,342.4 885.9,350.5 899.1,351.5 907.3,338.3 914.4,295.6 923.6,298.6 929.7,303.7 936.8,306.8 943.9,328.1 952.0,315.9 959.1,305.8 966.3,302.7 974.4,311.9 984.6,322.0 988.6,329.1 996.5,325.5 1002.9,319.0 1010.7,359.1 1018.4,372.0 1026.2,375.9 1032.7,366.9 1039.1,335.8 1046.9,281.5 1054.6,227.2 1062.4,160.0 1074.0,40.0 1088.3,160.0 1099.9,269.9 1107.7,273.8 1114.1,250.5 1121.9,255.7 1129.6,267.3 1137.4,260.9 1145.2,269.9 1151.6,267.3 1159.4,271.2 1167.1,257.0" fill="none" stroke="#000" stroke-width="2.4" stroke-linejoin="round" clip-path="url(#c2)"/>
<rect x="707.40" y="76.30" width="67.00" height="13.40" fill="#f6c2a6" rx="2"/>
<rect x="707.40" y="95.80" width="67.00" height="14.00" fill="#bdbdbf" rx="2"/>
<rect x="707.40" y="115.30" width="67.00" height="13.40" fill="#a9d995" rx="2"/>
<line x1="707.4" y1="142.3" x2="774.5" y2="142.3" stroke="#000" stroke-width="3.2" stroke-dasharray="8,4.5"/>
<line x1="707.4" y1="161.6" x2="774.5" y2="161.6" stroke="#000" stroke-width="2.4" />
<text transform="translate(0 -3.98) scale(1 1.045)" x="779.3" y="88.4" font-size="17.1" text-anchor="start" fill="#303030" stroke="#303030" stroke-width="0.2" >Tax less subsidies</text>
<text transform="translate(0 -4.86) scale(1 1.045)" x="779.3" y="107.9" font-size="17.1" text-anchor="start" fill="#303030" stroke="#303030" stroke-width="0.2" >Profits</text>
<text transform="translate(0 -5.74) scale(1 1.045)" x="779.3" y="127.5" font-size="17.1" text-anchor="start" fill="#303030" stroke="#303030" stroke-width="0.2" >Compensation of employees</text>
<text transform="translate(0 -6.60) scale(1 1.045)" x="779.3" y="146.7" font-size="17.1" text-anchor="start" fill="#303030" stroke="#303030" stroke-width="0.2" >Deflator</text>
<text transform="translate(0 -7.48) scale(1 1.045)" x="779.3" y="166.3" font-size="17.1" text-anchor="start" fill="#303030" stroke="#303030" stroke-width="0.2" >CPI inflation</text>
<text transform="translate(0 -26.43) scale(1 1.045)" x="21.8" y="587.4" font-size="23.0" text-anchor="start" fill="#3c4526" font-weight="bold" >General budget balance to GDP (12M rolling)</text>
<line x1="110.5" y1="988.5" x2="600.5" y2="988.5" stroke="#ebebeb" stroke-width="1.2" />
<text transform="translate(0 -44.76) scale(1 1.045)" x="93.5" y="994.7" font-size="17.4" text-anchor="end" fill="#303030" stroke="#303030" stroke-width="0.2" >-15.0%</text>
<line x1="110.5" y1="945.6" x2="600.5" y2="945.6" stroke="#ebebeb" stroke-width="1.2" />
<text transform="translate(0 -42.83) scale(1 1.045)" x="93.5" y="951.8" font-size="17.4" text-anchor="end" fill="#303030" stroke="#303030" stroke-width="0.2" >-12.5%</text>
<line x1="110.5" y1="902.8" x2="600.5" y2="902.8" stroke="#ebebeb" stroke-width="1.2" />
<text transform="translate(0 -40.90) scale(1 1.045)" x="93.5" y="909.0" font-size="17.4" text-anchor="end" fill="#303030" stroke="#303030" stroke-width="0.2" >-10.0%</text>
<line x1="110.5" y1="860.0" x2="600.5" y2="860.0" stroke="#ebebeb" stroke-width="1.2" />
<text transform="translate(0 -38.98) scale(1 1.045)" x="93.5" y="866.2" font-size="17.4" text-anchor="end" fill="#303030" stroke="#303030" stroke-width="0.2" >-7.5%</text>
<line x1="110.5" y1="817.1" x2="600.5" y2="817.1" stroke="#ebebeb" stroke-width="1.2" />
<text transform="translate(0 -37.05) scale(1 1.045)" x="93.5" y="823.4" font-size="17.4" text-anchor="end" fill="#303030" stroke="#303030" stroke-width="0.2" >-5.0%</text>
<line x1="110.5" y1="774.3" x2="600.5" y2="774.3" stroke="#ebebeb" stroke-width="1.2" />
<text transform="translate(0 -35.12) scale(1 1.045)" x="93.5" y="780.5" font-size="17.4" text-anchor="end" fill="#303030" stroke="#303030" stroke-width="0.2" >-2.5%</text>
<text transform="translate(0 -33.20) scale(1 1.045)" x="93.5" y="737.7" font-size="17.4" text-anchor="end" fill="#303030" stroke="#303030" stroke-width="0.2" >0.0%</text>
<line x1="110.5" y1="688.7" x2="600.5" y2="688.7" stroke="#ebebeb" stroke-width="1.2" />
<text transform="translate(0 -31.27) scale(1 1.045)" x="93.5" y="694.9" font-size="17.4" text-anchor="end" fill="#303030" stroke="#303030" stroke-width="0.2" >2.5%</text>
<line x1="110.5" y1="645.9" x2="600.5" y2="645.9" stroke="#ebebeb" stroke-width="1.2" />
<text transform="translate(0 -29.34) scale(1 1.045)" x="93.5" y="652.1" font-size="17.4" text-anchor="end" fill="#303030" stroke="#303030" stroke-width="0.2" >5.0%</text>
<line x1="110.5" y1="731.5" x2="600.5" y2="731.5" stroke="#d0d0d0" stroke-width="1.6" />
<line x1="110.5" y1="731.5" x2="110.5" y2="736.5" stroke="#d0d0d0" stroke-width="1.4" />
<line x1="179.5" y1="731.5" x2="179.5" y2="736.5" stroke="#d0d0d0" stroke-width="1.4" />
<line x1="248.4" y1="731.5" x2="248.4" y2="736.5" stroke="#d0d0d0" stroke-width="1.4" />
<line x1="317.4" y1="731.5" x2="317.4" y2="736.5" stroke="#d0d0d0" stroke-width="1.4" />
<line x1="386.4" y1="731.5" x2="386.4" y2="736.5" stroke="#d0d0d0" stroke-width="1.4" />
<line x1="455.4" y1="731.5" x2="455.4" y2="736.5" stroke="#d0d0d0" stroke-width="1.4" />
<line x1="524.3" y1="731.5" x2="524.3" y2="736.5" stroke="#d0d0d0" stroke-width="1.4" />
<line x1="593.3" y1="731.5" x2="593.3" y2="736.5" stroke="#d0d0d0" stroke-width="1.4" />
<text transform="translate(0 -45.62) scale(1 1.045)" x="111.5" y="1013.8" font-size="17.4" text-anchor="middle" fill="#303030" stroke="#303030" stroke-width="0.2" >2013</text>
<text transform="translate(0 -45.62) scale(1 1.045)" x="180.5" y="1013.8" font-size="17.4" text-anchor="middle" fill="#303030" stroke="#303030" stroke-width="0.2" >2015</text>
<text transform="translate(0 -45.62) scale(1 1.045)" x="249.4" y="1013.8" font-size="17.4" text-anchor="middle" fill="#303030" stroke="#303030" stroke-width="0.2" >2017</text>
<text transform="translate(0 -45.62) scale(1 1.045)" x="318.4" y="1013.8" font-size="17.4" text-anchor="middle" fill="#303030" stroke="#303030" stroke-width="0.2" >2018</text>
<text transform="translate(0 -45.62) scale(1 1.045)" x="387.4" y="1013.8" font-size="17.4" text-anchor="middle" fill="#303030" stroke="#303030" stroke-width="0.2" >2020</text>
<text transform="translate(0 -45.62) scale(1 1.045)" x="456.4" y="1013.8" font-size="17.4" text-anchor="middle" fill="#303030" stroke="#303030" stroke-width="0.2" >2022</text>
<text transform="translate(0 -45.62) scale(1 1.045)" x="525.3" y="1013.8" font-size="17.4" text-anchor="middle" fill="#303030" stroke="#303030" stroke-width="0.2" >2023</text>
<text transform="translate(0 -45.62) scale(1 1.045)" x="594.3" y="1013.8" font-size="17.4" text-anchor="middle" fill="#303030" stroke="#303030" stroke-width="0.2" >2025</text>
<polyline points="122.2,798.6 131.4,784.9 142.5,759.0 153.6,782.0 162.9,765.7 174.0,782.0 185.1,783.0 196.2,772.7 211.0,741.6 223.9,720.2 235.0,717.6 246.1,736.1 257.2,746.1 266.4,742.4 281.2,730.2 297.9,716.5 309.0,729.4 321.9,720.2 329.3,720.2 340.4,731.3 349.2,722.0 358.5,712.8 368.8,684.3 381.4,696.9 391.8,747.9 401.0,792.3 410.3,881.1 421.4,947.6 431.7,927.3 441.7,899.6 450.9,855.2 462.0,814.5 472.4,759.8 482.4,751.6 493.5,768.3 504.6,750.9 515.7,760.9 524.2,764.6 534.2,736.1 543.4,738.7 554.5,729.4 565.6,718.3 576.7,698.0 587.0,675.8 598.9,665.8" fill="none" stroke="#bdd6a0" stroke-width="5" stroke-linejoin="round" stroke-linecap="round"/>
<polyline points="122.2,964.3 133.3,932.1 142.5,813.8 162.9,796.0 175.8,804.5 194.3,809.7 205.4,831.9 225.7,796.0 246.1,727.6 257.2,723.1 266.4,725.7 275.7,720.9 288.6,717.6 297.9,712.8 309.0,712.8 320.0,715.8 329.3,715.8 340.4,725.7 349.2,725.7 358.5,729.4 369.6,717.2 380.7,727.6 389.9,766.4 401.0,818.2 410.3,892.2 421.4,938.4 430.6,916.2 442.8,892.2 452.8,851.5 462.0,823.7 472.4,783.8 482.4,788.6 493.5,773.1 504.6,777.5 513.8,776.8 523.1,755.3 534.2,753.5 545.2,742.4 556.3,729.4 565.6,721.3 576.7,709.1 587.0,686.9" fill="none" stroke="#4f6a2b" stroke-width="5" stroke-linejoin="round" stroke-linecap="round"/>
<line x1="133.8" y1="640.0" x2="182.3" y2="640.0" stroke="#bdd6a0" stroke-width="5.2" stroke-linecap="round"/>
<line x1="133.8" y1="678.7" x2="182.3" y2="678.7" stroke="#4f6a2b" stroke-width="5.2" stroke-linecap="round"/>
<text transform="translate(0 -29.06) scale(1 1.045)" x="188.2" y="645.8" font-size="17.6" text-anchor="start" fill="#303030" stroke="#303030" stroke-width="0.2" >Cash-based</text>
<text transform="translate(0 -30.81) scale(1 1.045)" x="188.2" y="684.6" font-size="17.6" text-anchor="start" fill="#303030" stroke="#303030" stroke-width="0.2" >ESA-based</text>
<text transform="translate(0 -26.44) scale(1 1.045)" x="635.5" y="587.6" font-size="23.0" text-anchor="start" fill="#3c4526" font-weight="bold" >Funding of the budget to GDP (12M rolling)</text>
<line x1="717.0" y1="646.1" x2="1207.5" y2="646.1" stroke="#ebebeb" stroke-width="1.2" />
<text transform="translate(0 -29.35) scale(1 1.045)" x="701.0" y="652.3" font-size="17.5" text-anchor="end" fill="#303030" stroke="#303030" stroke-width="0.2" >15%</text>
<line x1="717.0" y1="702.1" x2="1207.5" y2="702.1" stroke="#ebebeb" stroke-width="1.2" />
<text transform="translate(0 -31.87) scale(1 1.045)" x="701.0" y="708.3" font-size="17.5" text-anchor="end" fill="#303030" stroke="#303030" stroke-width="0.2" >10%</text>
<line x1="717.0" y1="758.2" x2="1207.5" y2="758.2" stroke="#ebebeb" stroke-width="1.2" />
<text transform="translate(0 -34.40) scale(1 1.045)" x="701.0" y="764.4" font-size="17.5" text-anchor="end" fill="#303030" stroke="#303030" stroke-width="0.2" >5%</text>
<line x1="717.0" y1="814.2" x2="1207.5" y2="814.2" stroke="#ebebeb" stroke-width="1.2" />
<text transform="translate(0 -36.92) scale(1 1.045)" x="701.0" y="820.4" font-size="17.5" text-anchor="end" fill="#303030" stroke="#303030" stroke-width="0.2" >0%</text>
<line x1="717.0" y1="870.2" x2="1207.5" y2="870.2" stroke="#ebebeb" stroke-width="1.2" />
<text transform="translate(0 -39.44) scale(1 1.045)" x="701.0" y="876.5" font-size="17.5" text-anchor="end" fill="#303030" stroke="#303030" stroke-width="0.2" >-5%</text>
<line x1="717.0" y1="926.3" x2="1207.5" y2="926.3" stroke="#ebebeb" stroke-width="1.2" />
<text transform="translate(0 -41.96) scale(1 1.045)" x="701.0" y="932.5" font-size="17.5" text-anchor="end" fill="#303030" stroke="#303030" stroke-width="0.2" >-10%</text>
<line x1="717.0" y1="982.4" x2="1207.5" y2="982.4" stroke="#ebebeb" stroke-width="1.2" />
<text transform="translate(0 -44.48) scale(1 1.045)" x="701.0" y="988.6" font-size="17.5" text-anchor="end" fill="#303030" stroke="#303030" stroke-width="0.2" >-15%</text>
<text transform="translate(0 -45.41) scale(1 1.045)" x="719.7" y="1009.2" font-size="17.5" text-anchor="middle" fill="#303030" stroke="#303030" stroke-width="0.2" >2018</text>
<text transform="translate(0 -45.41) scale(1 1.045)" x="811.7" y="1009.2" font-size="17.5" text-anchor="middle" fill="#303030" stroke="#303030" stroke-width="0.2" >2020</text>
<text transform="translate(0 -45.41) scale(1 1.045)" x="903.2" y="1009.2" font-size="17.5" text-anchor="middle" fill="#303030" stroke="#303030" stroke-width="0.2" >2021</text>
<text transform="translate(0 -45.41) scale(1 1.045)" x="995.4" y="1009.2" font-size="17.5" text-anchor="middle" fill="#303030" stroke="#303030" stroke-width="0.2" >2022</text>
<text transform="translate(0 -45.41) scale(1 1.045)" x="1087.4" y="1009.2" font-size="17.5" text-anchor="middle" fill="#303030" stroke="#303030" stroke-width="0.2" >2023</text>
<text transform="translate(0 -45.41) scale(1 1.045)" x="1179.4" y="1009.2" font-size="17.5" text-anchor="middle" fill="#303030" stroke="#303030" stroke-width="0.2" >2025</text>
<rect x="716.60" y="699.60" width="6.13" height="114.60" fill="#ee7331" shape-rendering="crispEdges"/>
<rect x="716.60" y="683.00" width="6.13" height="16.60" fill="#8dd873" shape-rendering="crispEdges"/>
<rect x="716.60" y="814.20" width="6.13" height="119.60" fill="#d9d9d9" shape-rendering="crispEdges"/>
<rect x="716.60" y="933.80" width="6.13" height="5.50" fill="#fcdccc" shape-rendering="crispEdges"/>
<rect x="722.73" y="709.30" width="6.13" height="104.90" fill="#ee7331" shape-rendering="crispEdges"/>
<rect x="722.73" y="696.80" width="6.13" height="12.50" fill="#8dd873" shape-rendering="crispEdges"/>
<rect x="722.63" y="692.80" width="6.33" height="4.00" fill="#2a5b1c" rx="1.4"/>
<rect x="722.73" y="814.20" width="6.13" height="116.80" fill="#d9d9d9" shape-rendering="crispEdges"/>
<rect x="722.73" y="931.00" width="6.13" height="5.80" fill="#fcdccc" shape-rendering="crispEdges"/>
<rect x="728.86" y="703.80" width="6.13" height="110.40" fill="#ee7331" shape-rendering="crispEdges"/>
<rect x="728.86" y="814.20" width="6.13" height="104.30" fill="#d9d9d9" shape-rendering="crispEdges"/>
<rect x="728.76" y="918.50" width="6.33" height="6.90" fill="#2a5b1c" rx="1.4"/>
<rect x="734.99" y="723.10" width="6.13" height="91.10" fill="#ee7331" shape-rendering="crispEdges"/>
<rect x="734.99" y="814.20" width="6.13" height="28.10" fill="#8dd873" shape-rendering="crispEdges"/>
<rect x="734.99" y="842.30" width="6.13" height="58.20" fill="#d9d9d9" shape-rendering="crispEdges"/>
<rect x="734.89" y="900.50" width="6.33" height="5.50" fill="#2a5b1c" rx="1.4"/>
<rect x="741.12" y="734.20" width="6.13" height="80.00" fill="#ee7331" shape-rendering="crispEdges"/>
<rect x="741.12" y="814.20" width="6.13" height="21.20" fill="#8dd873" shape-rendering="crispEdges"/>
<rect x="741.12" y="835.40" width="6.13" height="54.00" fill="#d9d9d9" shape-rendering="crispEdges"/>
<rect x="741.02" y="889.40" width="6.33" height="5.20" fill="#2a5b1c" rx="1.4"/>
<rect x="747.25" y="729.50" width="6.13" height="84.70" fill="#ee7331" shape-rendering="crispEdges"/>
<rect x="747.25" y="814.20" width="6.13" height="19.80" fill="#8dd873" shape-rendering="crispEdges"/>
<rect x="747.25" y="834.00" width="6.13" height="58.20" fill="#d9d9d9" shape-rendering="crispEdges"/>
<rect x="747.15" y="892.20" width="6.33" height="5.10" fill="#2a5b1c" rx="1.4"/>
<rect x="753.38" y="741.20" width="6.13" height="73.00" fill="#ee7331" shape-rendering="crispEdges"/>
<rect x="753.28" y="735.60" width="6.33" height="5.60" fill="#2a5b1c" rx="1.4"/>
<rect x="753.38" y="814.20" width="6.13" height="23.90" fill="#8dd873" shape-rendering="crispEdges"/>
<rect x="753.38" y="838.10" width="6.13" height="49.90" fill="#d9d9d9" shape-rendering="crispEdges"/>
<rect x="753.38" y="888.00" width="6.13" height="4.20" fill="#fcdccc" shape-rendering="crispEdges"/>
<rect x="759.51" y="727.30" width="6.13" height="86.90" fill="#ee7331" shape-rendering="crispEdges"/>
<rect x="759.41" y="722.10" width="6.33" height="5.20" fill="#2a5b1c" rx="1.4"/>
<rect x="759.51" y="814.20" width="6.13" height="35.00" fill="#8dd873" shape-rendering="crispEdges"/>
<rect x="759.51" y="849.20" width="6.13" height="47.10" fill="#d9d9d9" shape-rendering="crispEdges"/>
<rect x="765.64" y="771.60" width="6.13" height="42.60" fill="#d9d9d9" shape-rendering="crispEdges"/>
<rect x="765.54" y="766.10" width="6.33" height="5.50" fill="#2a5b1c" rx="1.4"/>
<rect x="765.64" y="814.20" width="6.13" height="36.40" fill="#8dd873" shape-rendering="crispEdges"/>
<rect x="765.64" y="850.60" width="6.13" height="1.40" fill="#fcdccc" shape-rendering="crispEdges"/>
<rect x="771.77" y="771.60" width="6.13" height="42.60" fill="#d9d9d9" shape-rendering="crispEdges"/>
<rect x="771.67" y="766.10" width="6.33" height="5.50" fill="#2a5b1c" rx="1.4"/>
<rect x="771.77" y="814.20" width="6.13" height="35.00" fill="#8dd873" shape-rendering="crispEdges"/>
<rect x="777.90" y="773.00" width="6.13" height="41.20" fill="#d9d9d9" shape-rendering="crispEdges"/>
<rect x="777.80" y="767.50" width="6.33" height="5.50" fill="#2a5b1c" rx="1.4"/>
<rect x="777.90" y="814.20" width="6.13" height="35.00" fill="#8dd873" shape-rendering="crispEdges"/>
<rect x="784.03" y="757.80" width="6.13" height="56.40" fill="#d9d9d9" shape-rendering="crispEdges"/>
<rect x="783.93" y="752.20" width="6.33" height="5.60" fill="#2a5b1c" rx="1.4"/>
<rect x="784.03" y="814.20" width="6.13" height="14.20" fill="#ee7331" shape-rendering="crispEdges"/>
<rect x="784.03" y="828.40" width="6.13" height="31.90" fill="#8dd873" shape-rendering="crispEdges"/>
<rect x="784.03" y="860.30" width="6.13" height="5.50" fill="#fcdccc" shape-rendering="crispEdges"/>
<rect x="790.16" y="759.20" width="6.13" height="55.00" fill="#d9d9d9" shape-rendering="crispEdges"/>
<rect x="790.06" y="753.60" width="6.33" height="5.60" fill="#2a5b1c" rx="1.4"/>
<rect x="790.16" y="814.20" width="6.13" height="30.90" fill="#8dd873" shape-rendering="crispEdges"/>
<rect x="796.29" y="762.00" width="6.13" height="52.20" fill="#d9d9d9" shape-rendering="crispEdges"/>
<rect x="796.19" y="756.40" width="6.33" height="5.60" fill="#2a5b1c" rx="1.4"/>
<rect x="796.29" y="814.20" width="6.13" height="32.20" fill="#8dd873" shape-rendering="crispEdges"/>
<rect x="802.42" y="766.80" width="6.13" height="47.40" fill="#d9d9d9" shape-rendering="crispEdges"/>
<rect x="802.42" y="814.20" width="6.13" height="8.60" fill="#ee7331" shape-rendering="crispEdges"/>
<rect x="802.42" y="822.80" width="6.13" height="23.60" fill="#8dd873" shape-rendering="crispEdges"/>
<rect x="808.55" y="796.40" width="6.13" height="17.80" fill="#8dd873" shape-rendering="crispEdges"/>
<rect x="808.55" y="765.40" width="6.13" height="31.00" fill="#d9d9d9" shape-rendering="crispEdges"/>
<rect x="808.45" y="752.40" width="6.33" height="13.00" fill="#2a5b1c" rx="1.4"/>
<rect x="808.55" y="814.20" width="6.13" height="31.40" fill="#ee7331" shape-rendering="crispEdges"/>
<rect x="814.68" y="779.60" width="6.13" height="34.60" fill="#d9d9d9" shape-rendering="crispEdges"/>
<rect x="814.58" y="766.70" width="6.33" height="12.90" fill="#2a5b1c" rx="1.4"/>
<rect x="814.68" y="814.20" width="6.13" height="36.60" fill="#ee7331" shape-rendering="crispEdges"/>
<rect x="820.81" y="779.60" width="6.13" height="34.60" fill="#d9d9d9" shape-rendering="crispEdges"/>
<rect x="820.71" y="766.70" width="6.33" height="12.90" fill="#2a5b1c" rx="1.4"/>
<rect x="820.81" y="814.20" width="6.13" height="46.90" fill="#ee7331" shape-rendering="crispEdges"/>
<rect x="826.94" y="786.10" width="6.13" height="28.10" fill="#d9d9d9" shape-rendering="crispEdges"/>
<rect x="826.84" y="773.10" width="6.33" height="13.00" fill="#2a5b1c" rx="1.4"/>
<rect x="826.94" y="814.20" width="6.13" height="35.30" fill="#ee7331" shape-rendering="crispEdges"/>
<rect x="826.94" y="849.50" width="6.13" height="24.60" fill="#8dd873" shape-rendering="crispEdges"/>
<rect x="833.07" y="792.60" width="6.13" height="21.60" fill="#d9d9d9" shape-rendering="crispEdges"/>
<rect x="832.97" y="779.60" width="6.33" height="13.00" fill="#2a5b1c" rx="1.4"/>
<rect x="833.07" y="814.20" width="6.13" height="30.10" fill="#ee7331" shape-rendering="crispEdges"/>
<rect x="833.07" y="844.30" width="6.13" height="29.80" fill="#8dd873" shape-rendering="crispEdges"/>
<rect x="839.20" y="792.60" width="6.13" height="21.60" fill="#d9d9d9" shape-rendering="crispEdges"/>
<rect x="839.10" y="780.90" width="6.33" height="11.70" fill="#2a5b1c" rx="1.4"/>
<rect x="839.20" y="814.20" width="6.13" height="23.60" fill="#ee7331" shape-rendering="crispEdges"/>
<rect x="839.20" y="837.80" width="6.13" height="26.00" fill="#8dd873" shape-rendering="crispEdges"/>
<rect x="845.33" y="791.30" width="6.13" height="22.90" fill="#d9d9d9" shape-rendering="crispEdges"/>
<rect x="845.23" y="779.60" width="6.33" height="11.70" fill="#2a5b1c" rx="1.4"/>
<rect x="845.33" y="814.20" width="6.13" height="28.80" fill="#ee7331" shape-rendering="crispEdges"/>
<rect x="845.33" y="843.00" width="6.13" height="41.40" fill="#8dd873" shape-rendering="crispEdges"/>
<rect x="851.46" y="791.30" width="6.13" height="22.90" fill="#d9d9d9" shape-rendering="crispEdges"/>
<rect x="851.36" y="778.30" width="6.33" height="13.00" fill="#2a5b1c" rx="1.4"/>
<rect x="851.46" y="814.20" width="6.13" height="22.40" fill="#ee7331" shape-rendering="crispEdges"/>
<rect x="851.46" y="836.60" width="6.13" height="68.50" fill="#8dd873" shape-rendering="crispEdges"/>
<rect x="857.59" y="812.00" width="6.13" height="2.20" fill="#d9d9d9" shape-rendering="crispEdges"/>
<rect x="857.49" y="801.60" width="6.33" height="10.40" fill="#2a5b1c" rx="1.4"/>
<rect x="857.59" y="814.20" width="6.13" height="24.90" fill="#ee7331" shape-rendering="crispEdges"/>
<rect x="857.59" y="839.10" width="6.13" height="73.80" fill="#8dd873" shape-rendering="crispEdges"/>
<rect x="857.59" y="912.90" width="6.13" height="10.30" fill="#d9d9d9" shape-rendering="crispEdges"/>
<rect x="863.72" y="812.00" width="6.13" height="2.20" fill="#d9d9d9" shape-rendering="crispEdges"/>
<rect x="863.62" y="800.30" width="6.33" height="11.70" fill="#2a5b1c" rx="1.4"/>
<rect x="863.72" y="814.20" width="6.13" height="50.80" fill="#ee7331" shape-rendering="crispEdges"/>
<rect x="863.72" y="865.00" width="6.13" height="60.80" fill="#8dd873" shape-rendering="crispEdges"/>
<rect x="863.72" y="925.80" width="6.13" height="13.00" fill="#d9d9d9" shape-rendering="crispEdges"/>
<rect x="869.85" y="812.00" width="6.13" height="2.20" fill="#d9d9d9" shape-rendering="crispEdges"/>
<rect x="869.75" y="800.30" width="6.33" height="11.70" fill="#2a5b1c" rx="1.4"/>
<rect x="869.85" y="814.20" width="6.13" height="39.20" fill="#ee7331" shape-rendering="crispEdges"/>
<rect x="869.85" y="853.40" width="6.13" height="80.20" fill="#8dd873" shape-rendering="crispEdges"/>
<rect x="869.85" y="933.60" width="6.13" height="7.80" fill="#d9d9d9" shape-rendering="crispEdges"/>
<rect x="875.98" y="812.00" width="6.13" height="2.20" fill="#d9d9d9" shape-rendering="crispEdges"/>
<rect x="875.88" y="800.30" width="6.33" height="11.70" fill="#2a5b1c" rx="1.4"/>
<rect x="875.98" y="814.20" width="6.13" height="31.40" fill="#ee7331" shape-rendering="crispEdges"/>
<rect x="875.98" y="845.60" width="6.13" height="98.40" fill="#8dd873" shape-rendering="crispEdges"/>
<rect x="875.98" y="944.00" width="6.13" height="5.10" fill="#d9d9d9" shape-rendering="crispEdges"/>
<rect x="882.11" y="797.70" width="6.13" height="16.50" fill="#d9d9d9" shape-rendering="crispEdges"/>
<rect x="882.01" y="787.40" width="6.33" height="10.30" fill="#2a5b1c" rx="1.4"/>
<rect x="882.11" y="814.20" width="6.13" height="48.20" fill="#ee7331" shape-rendering="crispEdges"/>
<rect x="882.11" y="862.40" width="6.13" height="119.10" fill="#8dd873" shape-rendering="crispEdges"/>
<rect x="888.24" y="812.00" width="6.13" height="2.20" fill="#d9d9d9" shape-rendering="crispEdges"/>
<rect x="888.14" y="800.30" width="6.33" height="11.70" fill="#2a5b1c" rx="1.4"/>
<rect x="888.24" y="814.20" width="6.13" height="5.60" fill="#ee7331" shape-rendering="crispEdges"/>
<rect x="888.24" y="819.80" width="6.13" height="131.90" fill="#8dd873" shape-rendering="crispEdges"/>
<rect x="888.24" y="951.70" width="6.13" height="9.10" fill="#d9d9d9" shape-rendering="crispEdges"/>
<rect x="894.37" y="812.00" width="6.13" height="2.20" fill="#d9d9d9" shape-rendering="crispEdges"/>
<rect x="894.27" y="800.30" width="6.33" height="11.70" fill="#2a5b1c" rx="1.4"/>
<rect x="894.37" y="814.20" width="6.13" height="134.90" fill="#8dd873" shape-rendering="crispEdges"/>
<rect x="894.37" y="949.10" width="6.13" height="10.40" fill="#d9d9d9" shape-rendering="crispEdges"/>
<rect x="900.50" y="812.00" width="6.13" height="2.20" fill="#d9d9d9" shape-rendering="crispEdges"/>
<rect x="900.40" y="801.60" width="6.33" height="10.40" fill="#2a5b1c" rx="1.4"/>
<rect x="900.50" y="814.20" width="6.13" height="129.80" fill="#8dd873" shape-rendering="crispEdges"/>
<rect x="900.50" y="944.00" width="6.13" height="10.30" fill="#d9d9d9" shape-rendering="crispEdges"/>
<rect x="906.63" y="812.00" width="6.13" height="2.20" fill="#d9d9d9" shape-rendering="crispEdges"/>
<rect x="906.53" y="801.60" width="6.33" height="10.40" fill="#2a5b1c" rx="1.4"/>
<rect x="906.63" y="814.20" width="6.13" height="4.20" fill="#ee7331" shape-rendering="crispEdges"/>
<rect x="906.63" y="818.40" width="6.13" height="120.40" fill="#8dd873" shape-rendering="crispEdges"/>
<rect x="906.63" y="938.80" width="6.13" height="7.70" fill="#d9d9d9" shape-rendering="crispEdges"/>
<rect x="912.76" y="786.90" width="6.13" height="27.30" fill="#ee7331" shape-rendering="crispEdges"/>
<rect x="912.66" y="775.20" width="6.33" height="11.70" fill="#2a5b1c" rx="1.4"/>
<rect x="912.76" y="814.20" width="6.13" height="113.70" fill="#8dd873" shape-rendering="crispEdges"/>
<rect x="912.76" y="927.90" width="6.13" height="15.60" fill="#d9d9d9" shape-rendering="crispEdges"/>
<rect x="918.89" y="780.40" width="6.13" height="33.80" fill="#ee7331" shape-rendering="crispEdges"/>
<rect x="918.79" y="771.40" width="6.33" height="9.00" fill="#2a5b1c" rx="1.4"/>
<rect x="918.89" y="814.20" width="6.13" height="106.00" fill="#8dd873" shape-rendering="crispEdges"/>
<rect x="918.89" y="920.20" width="6.13" height="15.50" fill="#d9d9d9" shape-rendering="crispEdges"/>
<rect x="925.02" y="784.30" width="6.13" height="29.90" fill="#ee7331" shape-rendering="crispEdges"/>
<rect x="924.92" y="776.50" width="6.33" height="7.80" fill="#2a5b1c" rx="1.4"/>
<rect x="925.02" y="814.20" width="6.13" height="98.20" fill="#8dd873" shape-rendering="crispEdges"/>
<rect x="925.02" y="912.40" width="6.13" height="15.50" fill="#d9d9d9" shape-rendering="crispEdges"/>
<rect x="931.15" y="780.40" width="6.13" height="33.80" fill="#ee7331" shape-rendering="crispEdges"/>
<rect x="931.05" y="770.10" width="6.33" height="10.30" fill="#2a5b1c" rx="1.4"/>
<rect x="931.15" y="814.20" width="6.13" height="103.40" fill="#8dd873" shape-rendering="crispEdges"/>
<rect x="931.15" y="917.60" width="6.13" height="10.30" fill="#d9d9d9" shape-rendering="crispEdges"/>
<rect x="937.28" y="799.90" width="6.13" height="14.30" fill="#ee7331" shape-rendering="crispEdges"/>
<rect x="937.28" y="792.10" width="6.13" height="7.80" fill="#fcdccc" shape-rendering="crispEdges"/>
<rect x="937.18" y="780.40" width="6.33" height="11.70" fill="#2a5b1c" rx="1.4"/>
<rect x="937.28" y="814.20" width="6.13" height="87.90" fill="#8dd873" shape-rendering="crispEdges"/>
<rect x="937.28" y="902.10" width="6.13" height="15.50" fill="#d9d9d9" shape-rendering="crispEdges"/>
<rect x="943.41" y="775.20" width="6.13" height="39.00" fill="#ee7331" shape-rendering="crispEdges"/>
<rect x="943.31" y="762.30" width="6.33" height="12.90" fill="#2a5b1c" rx="1.4"/>
<rect x="943.41" y="814.20" width="6.13" height="85.30" fill="#8dd873" shape-rendering="crispEdges"/>
<rect x="943.41" y="899.50" width="6.13" height="15.50" fill="#d9d9d9" shape-rendering="crispEdges"/>
<rect x="949.54" y="779.10" width="6.13" height="35.10" fill="#ee7331" shape-rendering="crispEdges"/>
<rect x="949.44" y="768.80" width="6.33" height="10.30" fill="#2a5b1c" rx="1.4"/>
<rect x="949.54" y="814.20" width="6.13" height="62.00" fill="#8dd873" shape-rendering="crispEdges"/>
<rect x="949.54" y="876.20" width="6.13" height="10.30" fill="#d9d9d9" shape-rendering="crispEdges"/>
<rect x="955.67" y="776.50" width="6.13" height="37.70" fill="#ee7331" shape-rendering="crispEdges"/>
<rect x="955.57" y="764.90" width="6.33" height="11.60" fill="#2a5b1c" rx="1.4"/>
<rect x="955.67" y="814.20" width="6.13" height="46.50" fill="#8dd873" shape-rendering="crispEdges"/>
<rect x="955.67" y="860.70" width="6.13" height="10.30" fill="#d9d9d9" shape-rendering="crispEdges"/>
<rect x="961.80" y="775.20" width="6.13" height="39.00" fill="#ee7331" shape-rendering="crispEdges"/>
<rect x="961.70" y="767.50" width="6.33" height="7.70" fill="#2a5b1c" rx="1.4"/>
<rect x="961.80" y="814.20" width="6.13" height="51.60" fill="#8dd873" shape-rendering="crispEdges"/>
<rect x="967.93" y="783.00" width="6.13" height="31.20" fill="#ee7331" shape-rendering="crispEdges"/>
<rect x="967.93" y="779.90" width="6.13" height="3.10" fill="#fcdccc" shape-rendering="crispEdges"/>
<rect x="967.83" y="772.70" width="6.33" height="7.20" fill="#2a5b1c" rx="1.4"/>
<rect x="967.93" y="814.20" width="6.13" height="36.10" fill="#8dd873" shape-rendering="crispEdges"/>
<rect x="974.06" y="799.90" width="6.13" height="14.30" fill="#ee7331" shape-rendering="crispEdges"/>
<rect x="974.06" y="792.10" width="6.13" height="7.80" fill="#fcdccc" shape-rendering="crispEdges"/>
<rect x="973.96" y="782.90" width="6.33" height="9.20" fill="#2a5b1c" rx="1.4"/>
<rect x="974.06" y="814.20" width="6.13" height="33.50" fill="#8dd873" shape-rendering="crispEdges"/>
<rect x="980.19" y="776.50" width="6.13" height="37.70" fill="#ee7331" shape-rendering="crispEdges"/>
<rect x="980.19" y="766.20" width="6.13" height="10.30" fill="#d9d9d9" shape-rendering="crispEdges"/>
<rect x="980.09" y="755.80" width="6.33" height="10.40" fill="#2a5b1c" rx="1.4"/>
<rect x="980.19" y="814.20" width="6.13" height="41.30" fill="#8dd873" shape-rendering="crispEdges"/>
<rect x="986.32" y="798.50" width="6.13" height="15.70" fill="#d9d9d9" shape-rendering="crispEdges"/>
<rect x="986.22" y="789.50" width="6.33" height="9.00" fill="#2a5b1c" rx="1.4"/>
<rect x="986.32" y="814.20" width="6.13" height="5.00" fill="#ee7331" shape-rendering="crispEdges"/>
<rect x="986.32" y="819.20" width="6.13" height="15.70" fill="#8dd873" shape-rendering="crispEdges"/>
<rect x="992.45" y="799.50" width="6.13" height="14.70" fill="#d9d9d9" shape-rendering="crispEdges"/>
<rect x="992.35" y="790.50" width="6.33" height="9.00" fill="#2a5b1c" rx="1.4"/>
<rect x="992.45" y="814.20" width="6.13" height="15.30" fill="#ee7331" shape-rendering="crispEdges"/>
<rect x="992.45" y="829.50" width="6.13" height="9.00" fill="#8dd873" shape-rendering="crispEdges"/>
<rect x="992.45" y="838.50" width="6.13" height="5.70" fill="#fcdccc" shape-rendering="crispEdges"/>
<rect x="998.58" y="799.80" width="6.13" height="14.40" fill="#d9d9d9" shape-rendering="crispEdges"/>
<rect x="998.48" y="791.50" width="6.33" height="8.30" fill="#2a5b1c" rx="1.4"/>
<rect x="998.58" y="814.20" width="6.13" height="13.30" fill="#ee7331" shape-rendering="crispEdges"/>
<rect x="998.58" y="827.50" width="6.13" height="9.30" fill="#8dd873" shape-rendering="crispEdges"/>
<rect x="998.58" y="836.80" width="6.13" height="5.60" fill="#fcdccc" shape-rendering="crispEdges"/>
<rect x="1004.71" y="800.80" width="6.13" height="13.40" fill="#d9d9d9" shape-rendering="crispEdges"/>
<rect x="1004.61" y="792.50" width="6.33" height="8.30" fill="#2a5b1c" rx="1.4"/>
<rect x="1004.71" y="814.20" width="6.13" height="7.80" fill="#ee7331" shape-rendering="crispEdges"/>
<rect x="1004.71" y="822.00" width="6.13" height="14.80" fill="#8dd873" shape-rendering="crispEdges"/>
<rect x="1004.71" y="836.80" width="6.13" height="7.40" fill="#fcdccc" shape-rendering="crispEdges"/>
<rect x="1010.84" y="801.70" width="6.13" height="12.50" fill="#d9d9d9" shape-rendering="crispEdges"/>
<rect x="1010.74" y="794.30" width="6.33" height="7.40" fill="#2a5b1c" rx="1.4"/>
<rect x="1010.84" y="814.20" width="6.13" height="17.10" fill="#ee7331" shape-rendering="crispEdges"/>
<rect x="1010.84" y="831.30" width="6.13" height="18.50" fill="#8dd873" shape-rendering="crispEdges"/>
<rect x="1010.84" y="849.80" width="6.13" height="6.40" fill="#fcdccc" shape-rendering="crispEdges"/>
<rect x="1016.97" y="796.10" width="6.13" height="18.10" fill="#d9d9d9" shape-rendering="crispEdges"/>
<rect x="1016.87" y="786.90" width="6.33" height="9.20" fill="#2a5b1c" rx="1.4"/>
<rect x="1016.97" y="814.20" width="6.13" height="18.90" fill="#ee7331" shape-rendering="crispEdges"/>
<rect x="1016.97" y="833.10" width="6.13" height="3.70" fill="#8dd873" shape-rendering="crispEdges"/>
<rect x="1016.97" y="836.80" width="6.13" height="3.70" fill="#fcdccc" shape-rendering="crispEdges"/>
<rect x="1023.10" y="789.70" width="6.13" height="24.50" fill="#d9d9d9" shape-rendering="crispEdges"/>
<rect x="1023.00" y="781.40" width="6.33" height="8.30" fill="#2a5b1c" rx="1.4"/>
<rect x="1023.10" y="814.20" width="6.13" height="24.50" fill="#ee7331" shape-rendering="crispEdges"/>
<rect x="1023.10" y="838.70" width="6.13" height="7.40" fill="#8dd873" shape-rendering="crispEdges"/>
<rect x="1029.23" y="794.30" width="6.13" height="19.90" fill="#d9d9d9" shape-rendering="crispEdges"/>
<rect x="1029.13" y="786.90" width="6.33" height="7.40" fill="#2a5b1c" rx="1.4"/>
<rect x="1029.23" y="814.20" width="6.13" height="24.50" fill="#ee7331" shape-rendering="crispEdges"/>
<rect x="1029.23" y="838.70" width="6.13" height="13.80" fill="#8dd873" shape-rendering="crispEdges"/>
<rect x="1029.23" y="852.50" width="6.13" height="5.50" fill="#fcdccc" shape-rendering="crispEdges"/>
<rect x="1035.36" y="793.40" width="6.13" height="20.80" fill="#d9d9d9" shape-rendering="crispEdges"/>
<rect x="1035.26" y="786.90" width="6.33" height="6.50" fill="#2a5b1c" rx="1.4"/>
<rect x="1035.36" y="814.20" width="6.13" height="22.60" fill="#ee7331" shape-rendering="crispEdges"/>
<rect x="1035.36" y="836.80" width="6.13" height="14.80" fill="#8dd873" shape-rendering="crispEdges"/>
<rect x="1035.36" y="851.60" width="6.13" height="5.40" fill="#fcdccc" shape-rendering="crispEdges"/>
<rect x="1041.49" y="794.30" width="6.13" height="19.90" fill="#d9d9d9" shape-rendering="crispEdges"/>
<rect x="1041.39" y="787.80" width="6.33" height="6.50" fill="#2a5b1c" rx="1.4"/>
<rect x="1041.49" y="814.20" width="6.13" height="20.80" fill="#ee7331" shape-rendering="crispEdges"/>
<rect x="1041.49" y="835.00" width="6.13" height="13.00" fill="#8dd873" shape-rendering="crispEdges"/>
<rect x="1041.49" y="848.00" width="6.13" height="5.00" fill="#fcdccc" shape-rendering="crispEdges"/>
<rect x="1047.62" y="794.30" width="6.13" height="19.90" fill="#d9d9d9" shape-rendering="crispEdges"/>
<rect x="1047.52" y="790.50" width="6.33" height="3.80" fill="#2a5b1c" rx="1.4"/>
<rect x="1047.62" y="814.20" width="6.13" height="18.00" fill="#ee7331" shape-rendering="crispEdges"/>
<rect x="1047.62" y="832.20" width="6.13" height="19.40" fill="#8dd873" shape-rendering="crispEdges"/>
<rect x="1047.62" y="851.60" width="6.13" height="5.40" fill="#fcdccc" shape-rendering="crispEdges"/>
<rect x="1053.75" y="791.50" width="6.13" height="22.70" fill="#d9d9d9" shape-rendering="crispEdges"/>
<rect x="1053.65" y="787.80" width="6.33" height="3.70" fill="#2a5b1c" rx="1.4"/>
<rect x="1053.75" y="814.20" width="6.13" height="22.60" fill="#ee7331" shape-rendering="crispEdges"/>
<rect x="1053.75" y="836.80" width="6.13" height="19.40" fill="#8dd873" shape-rendering="crispEdges"/>
<rect x="1053.75" y="856.20" width="6.13" height="4.60" fill="#fcdccc" shape-rendering="crispEdges"/>
<rect x="1059.88" y="790.50" width="6.13" height="23.70" fill="#d9d9d9" shape-rendering="crispEdges"/>
<rect x="1059.78" y="786.90" width="6.33" height="3.60" fill="#2a5b1c" rx="1.4"/>
<rect x="1059.88" y="814.20" width="6.13" height="16.10" fill="#ee7331" shape-rendering="crispEdges"/>
<rect x="1059.88" y="830.30" width="6.13" height="22.70" fill="#8dd873" shape-rendering="crispEdges"/>
<rect x="1059.88" y="853.00" width="6.13" height="5.00" fill="#fcdccc" shape-rendering="crispEdges"/>
<rect x="1066.01" y="789.00" width="6.13" height="25.20" fill="#d9d9d9" shape-rendering="crispEdges"/>
<rect x="1066.01" y="814.20" width="6.13" height="6.80" fill="#ee7331" shape-rendering="crispEdges"/>
<rect x="1066.01" y="821.00" width="6.13" height="34.30" fill="#8dd873" shape-rendering="crispEdges"/>
<rect x="1065.91" y="855.30" width="6.33" height="6.50" fill="#2a5b1c" rx="1.4"/>
<rect x="1072.14" y="789.00" width="6.13" height="25.20" fill="#d9d9d9" shape-rendering="crispEdges"/>
<rect x="1072.14" y="814.20" width="6.13" height="30.00" fill="#8dd873" shape-rendering="crispEdges"/>
<rect x="1072.14" y="844.20" width="6.13" height="8.30" fill="#fcdccc" shape-rendering="crispEdges"/>
<rect x="1072.04" y="852.50" width="6.33" height="6.50" fill="#2a5b1c" rx="1.4"/>
<rect x="1078.27" y="787.60" width="6.13" height="26.60" fill="#d9d9d9" shape-rendering="crispEdges"/>
<rect x="1078.27" y="814.20" width="6.13" height="30.00" fill="#8dd873" shape-rendering="crispEdges"/>
<rect x="1078.27" y="844.20" width="6.13" height="8.30" fill="#fcdccc" shape-rendering="crispEdges"/>
<rect x="1078.17" y="852.50" width="6.33" height="7.50" fill="#2a5b1c" rx="1.4"/>
<rect x="1084.40" y="769.40" width="6.13" height="44.80" fill="#d9d9d9" shape-rendering="crispEdges"/>
<rect x="1084.40" y="814.20" width="6.13" height="30.00" fill="#8dd873" shape-rendering="crispEdges"/>
<rect x="1084.40" y="844.20" width="6.13" height="9.30" fill="#fcdccc" shape-rendering="crispEdges"/>
<rect x="1084.30" y="853.50" width="6.33" height="8.30" fill="#2a5b1c" rx="1.4"/>
<rect x="1090.53" y="757.70" width="6.13" height="56.50" fill="#d9d9d9" shape-rendering="crispEdges"/>
<rect x="1090.53" y="814.20" width="6.13" height="46.60" fill="#8dd873" shape-rendering="crispEdges"/>
<rect x="1090.53" y="860.80" width="6.13" height="8.20" fill="#fcdccc" shape-rendering="crispEdges"/>
<rect x="1090.43" y="869.00" width="6.33" height="9.40" fill="#2a5b1c" rx="1.4"/>
<rect x="1096.66" y="757.70" width="6.13" height="56.50" fill="#d9d9d9" shape-rendering="crispEdges"/>
<rect x="1096.66" y="814.20" width="6.13" height="47.60" fill="#8dd873" shape-rendering="crispEdges"/>
<rect x="1096.66" y="861.80" width="6.13" height="12.90" fill="#fcdccc" shape-rendering="crispEdges"/>
<rect x="1096.56" y="874.70" width="6.33" height="10.20" fill="#2a5b1c" rx="1.4"/>
<rect x="1102.79" y="808.50" width="6.13" height="5.70" fill="#ee7331" shape-rendering="crispEdges"/>
<rect x="1102.79" y="749.50" width="6.13" height="59.00" fill="#d9d9d9" shape-rendering="crispEdges"/>
<rect x="1102.79" y="814.20" width="6.13" height="39.30" fill="#8dd873" shape-rendering="crispEdges"/>
<rect x="1102.79" y="853.50" width="6.13" height="22.10" fill="#fcdccc" shape-rendering="crispEdges"/>
<rect x="1102.69" y="875.60" width="6.33" height="9.30" fill="#2a5b1c" rx="1.4"/>
<rect x="1108.92" y="759.10" width="6.13" height="55.10" fill="#d9d9d9" shape-rendering="crispEdges"/>
<rect x="1108.92" y="814.20" width="6.13" height="29.10" fill="#8dd873" shape-rendering="crispEdges"/>
<rect x="1108.92" y="843.30" width="6.13" height="19.40" fill="#fcdccc" shape-rendering="crispEdges"/>
<rect x="1108.82" y="862.70" width="6.33" height="9.30" fill="#2a5b1c" rx="1.4"/>
<rect x="1115.05" y="756.40" width="6.13" height="57.80" fill="#d9d9d9" shape-rendering="crispEdges"/>
<rect x="1115.05" y="814.20" width="6.13" height="27.20" fill="#8dd873" shape-rendering="crispEdges"/>
<rect x="1115.05" y="841.40" width="6.13" height="21.30" fill="#fcdccc" shape-rendering="crispEdges"/>
<rect x="1114.95" y="862.70" width="6.33" height="9.30" fill="#2a5b1c" rx="1.4"/>
<rect x="1121.18" y="760.50" width="6.13" height="53.70" fill="#d9d9d9" shape-rendering="crispEdges"/>
<rect x="1121.18" y="814.20" width="6.13" height="27.20" fill="#8dd873" shape-rendering="crispEdges"/>
<rect x="1121.18" y="841.40" width="6.13" height="15.80" fill="#fcdccc" shape-rendering="crispEdges"/>
<rect x="1121.08" y="857.20" width="6.33" height="12.00" fill="#2a5b1c" rx="1.4"/>
<rect x="1127.31" y="770.80" width="6.13" height="43.40" fill="#d9d9d9" shape-rendering="crispEdges"/>
<rect x="1127.31" y="814.20" width="6.13" height="17.80" fill="#8dd873" shape-rendering="crispEdges"/>
<rect x="1127.31" y="832.00" width="6.13" height="13.10" fill="#fcdccc" shape-rendering="crispEdges"/>
<rect x="1127.21" y="845.10" width="6.33" height="10.20" fill="#2a5b1c" rx="1.4"/>
<rect x="1133.44" y="771.40" width="6.13" height="42.80" fill="#d9d9d9" shape-rendering="crispEdges"/>
<rect x="1133.44" y="814.20" width="6.13" height="14.60" fill="#8dd873" shape-rendering="crispEdges"/>
<rect x="1133.44" y="828.80" width="6.13" height="19.40" fill="#fcdccc" shape-rendering="crispEdges"/>
<rect x="1133.34" y="848.20" width="6.33" height="8.40" fill="#2a5b1c" rx="1.4"/>
<rect x="1139.57" y="812.50" width="6.13" height="1.70" fill="#ee7331" shape-rendering="crispEdges"/>
<rect x="1139.57" y="768.00" width="6.13" height="44.50" fill="#d9d9d9" shape-rendering="crispEdges"/>
<rect x="1139.57" y="814.20" width="6.13" height="17.40" fill="#8dd873" shape-rendering="crispEdges"/>
<rect x="1139.57" y="831.60" width="6.13" height="15.30" fill="#fcdccc" shape-rendering="crispEdges"/>
<rect x="1139.47" y="846.90" width="6.33" height="8.30" fill="#2a5b1c" rx="1.4"/>
<rect x="1145.70" y="788.60" width="6.13" height="25.60" fill="#ee7331" shape-rendering="crispEdges"/>
<rect x="1145.70" y="744.00" width="6.13" height="44.60" fill="#d9d9d9" shape-rendering="crispEdges"/>
<rect x="1145.70" y="814.20" width="6.13" height="13.30" fill="#8dd873" shape-rendering="crispEdges"/>
<rect x="1145.70" y="827.50" width="6.13" height="15.20" fill="#fcdccc" shape-rendering="crispEdges"/>
<rect x="1145.60" y="842.70" width="6.33" height="8.30" fill="#2a5b1c" rx="1.4"/>
<rect x="1151.83" y="795.40" width="6.13" height="18.80" fill="#ee7331" shape-rendering="crispEdges"/>
<rect x="1151.83" y="750.20" width="6.13" height="45.20" fill="#d9d9d9" shape-rendering="crispEdges"/>
<rect x="1151.83" y="814.20" width="6.13" height="14.60" fill="#8dd873" shape-rendering="crispEdges"/>
<rect x="1151.83" y="828.80" width="6.13" height="9.70" fill="#fcdccc" shape-rendering="crispEdges"/>
<rect x="1151.73" y="838.50" width="6.33" height="8.40" fill="#2a5b1c" rx="1.4"/>
<rect x="1157.96" y="811.90" width="6.13" height="2.30" fill="#ee7331" shape-rendering="crispEdges"/>
<rect x="1157.96" y="756.40" width="6.13" height="55.50" fill="#d9d9d9" shape-rendering="crispEdges"/>
<rect x="1157.96" y="814.20" width="6.13" height="14.60" fill="#8dd873" shape-rendering="crispEdges"/>
<rect x="1157.96" y="828.80" width="6.13" height="9.70" fill="#fcdccc" shape-rendering="crispEdges"/>
<rect x="1157.86" y="838.50" width="6.33" height="8.40" fill="#2a5b1c" rx="1.4"/>
<rect x="1164.09" y="794.10" width="6.13" height="20.10" fill="#ee7331" shape-rendering="crispEdges"/>
<rect x="1164.09" y="741.30" width="6.13" height="52.80" fill="#d9d9d9" shape-rendering="crispEdges"/>
<rect x="1164.09" y="814.20" width="6.13" height="17.40" fill="#8dd873" shape-rendering="crispEdges"/>
<rect x="1164.09" y="831.60" width="6.13" height="26.30" fill="#fcdccc" shape-rendering="crispEdges"/>
<rect x="1163.99" y="857.90" width="6.33" height="8.40" fill="#2a5b1c" rx="1.4"/>
<rect x="1170.22" y="811.90" width="6.13" height="2.30" fill="#ee7331" shape-rendering="crispEdges"/>
<rect x="1170.22" y="762.50" width="6.13" height="49.40" fill="#d9d9d9" shape-rendering="crispEdges"/>
<rect x="1170.22" y="814.20" width="6.13" height="13.30" fill="#fcdccc" shape-rendering="crispEdges"/>
<rect x="1170.12" y="827.50" width="6.33" height="9.70" fill="#2a5b1c" rx="1.4"/>
<rect x="1176.35" y="803.70" width="6.13" height="10.50" fill="#ee7331" shape-rendering="crispEdges"/>
<rect x="1176.35" y="753.60" width="6.13" height="50.10" fill="#d9d9d9" shape-rendering="crispEdges"/>
<rect x="1176.35" y="814.20" width="6.13" height="13.30" fill="#8dd873" shape-rendering="crispEdges"/>
<rect x="1176.25" y="827.50" width="6.33" height="12.40" fill="#2a5b1c" rx="1.4"/>
<rect x="1182.48" y="791.30" width="6.13" height="22.90" fill="#ee7331" shape-rendering="crispEdges"/>
<rect x="1182.48" y="743.30" width="6.13" height="48.00" fill="#d9d9d9" shape-rendering="crispEdges"/>
<rect x="1182.48" y="814.20" width="6.13" height="14.80" fill="#8dd873" shape-rendering="crispEdges"/>
<rect x="1182.38" y="829.00" width="6.33" height="20.60" fill="#2a5b1c" rx="1.4"/>
<rect x="1188.61" y="792.00" width="6.13" height="22.20" fill="#ee7331" shape-rendering="crispEdges"/>
<rect x="1188.61" y="752.30" width="6.13" height="39.70" fill="#d9d9d9" shape-rendering="crispEdges"/>
<rect x="1188.61" y="814.20" width="6.13" height="13.30" fill="#8dd873" shape-rendering="crispEdges"/>
<rect x="1188.51" y="827.50" width="6.33" height="8.30" fill="#2a5b1c" rx="1.4"/>
<rect x="1194.74" y="787.90" width="6.13" height="26.30" fill="#ee7331" shape-rendering="crispEdges"/>
<rect x="1194.74" y="748.10" width="6.13" height="39.80" fill="#d9d9d9" shape-rendering="crispEdges"/>
<rect x="1194.74" y="814.20" width="6.13" height="13.30" fill="#8dd873" shape-rendering="crispEdges"/>
<rect x="1194.64" y="827.50" width="6.33" height="8.30" fill="#2a5b1c" rx="1.4"/>
<rect x="1200.87" y="798.90" width="6.13" height="15.30" fill="#ee7331" shape-rendering="crispEdges"/>
<rect x="1200.87" y="748.10" width="6.13" height="50.80" fill="#d9d9d9" shape-rendering="crispEdges"/>
<rect x="1200.87" y="814.20" width="6.13" height="13.30" fill="#8dd873" shape-rendering="crispEdges"/>
<rect x="1200.77" y="827.50" width="6.33" height="8.30" fill="#2a5b1c" rx="1.4"/>
<line x1="717.1" y1="676.3" x2="717.1" y2="683.5" stroke="#c9cfc3" stroke-width="1.2" />
<polyline points="716.9,806.3 726.6,817.3 734.9,816.0 744.6,814.6 755.7,810.4 768.2,804.9 783.4,802.1 793.1,784.1 805.6,790.4 812.6,791.6 820.5,814.6 828.3,824.9 836.1,837.8 843.8,836.6 849.0,850.8 856.8,879.3 864.5,915.5 872.3,931.0 880.0,946.5 886.5,954.3 894.3,946.5 903.3,941.4 913.7,932.4 920.7,922.8 928.5,902.1 936.2,891.7 945.3,881.4 953.1,858.1 959.5,860.7 966.0,839.9 971.2,828.3 976.3,830.9 982.8,816.7 986.7,817.9 993.2,824.4 998.3,825.7 1002.4,823.9 1007.9,827.6 1013.5,835.0 1019.0,826.7 1025.5,823.9 1032.0,826.7 1037.5,832.2 1044.0,835.0 1050.5,833.1 1057.9,835.0 1065.3,835.9 1072.6,834.0 1080.0,832.5 1086.9,820.5 1092.5,824.7 1098.0,827.5 1105.0,821.9 1111.9,819.1 1120.2,816.4 1127.1,813.6 1134.1,810.1 1141.0,806.7 1146.5,784.5 1149.3,781.7 1154.9,784.5 1163.2,790.7 1167.3,793.5 1172.9,784.5 1179.8,778.2 1186.7,777.5 1192.3,775.5 1198.5,772.7" fill="none" stroke="#000" stroke-width="2.6" stroke-linejoin="round" stroke-dasharray="7,4"/>
<rect x="864.00" y="621.70" width="67.70" height="12.60" fill="#ee7331" rx="2"/>
<rect x="864.00" y="638.90" width="67.70" height="12.60" fill="#8dd873" rx="2"/>
<rect x="864.00" y="656.30" width="67.70" height="12.60" fill="#d9d9d9" rx="2"/>
<rect x="864.00" y="673.90" width="67.70" height="12.60" fill="#fcdccc" rx="2"/>
<rect x="864.00" y="691.70" width="67.70" height="12.60" fill="#2a5b1c" rx="2"/>
<line x1="864.0" y1="714.3" x2="931.7" y2="714.3" stroke="#000" stroke-width="2.6" stroke-dasharray="7,4"/>
<text transform="translate(0 -28.49) scale(1 1.045)" x="937.7" y="633.2" font-size="17.7" text-anchor="start" fill="#303030" stroke="#303030" stroke-width="0.2" >Currency and deposits</text>
<text transform="translate(0 -29.28) scale(1 1.045)" x="937.7" y="650.6" font-size="17.7" text-anchor="start" fill="#303030" stroke="#303030" stroke-width="0.2" >Debt securities</text>
<text transform="translate(0 -30.06) scale(1 1.045)" x="937.7" y="668.1" font-size="17.7" text-anchor="start" fill="#303030" stroke="#303030" stroke-width="0.2" >Loans</text>
<text transform="translate(0 -30.85) scale(1 1.045)" x="937.7" y="685.6" font-size="17.7" text-anchor="start" fill="#303030" stroke="#303030" stroke-width="0.2" >Shares and other equity</text>
<text transform="translate(0 -31.64) scale(1 1.045)" x="937.7" y="703.1" font-size="17.7" text-anchor="start" fill="#303030" stroke="#303030" stroke-width="0.2" >Financial derivatives</text>
<text transform="translate(0 -32.43) scale(1 1.045)" x="937.7" y="720.6" font-size="17.7" text-anchor="start" fill="#303030" stroke="#303030" stroke-width="0.2" >Deficit</text>
</svg>
<div class="rule" style="left:18px;top:52.5px;width:1199px;"></div>
<div class="rule" style="left:18px;top:503px;width:1199px;"></div>
<div class="rule" style="left:18px;top:599px;width:1209px;"></div>
<div class="rule" style="left:18px;top:1055px;width:1209px;"></div>
<div class="src" style="left:22px;top:508.6px;width:1191.5px;font-size:14.55px;line-height:17.3px;transform:scaleY(1.045);transform-origin:0 13.7px;text-align:justify;text-align-last:justify;white-space:nowrap;">Source: European Commission, Eurostat, ADA Economics in association with WOOD Research; *difference between hypothetical VAT revenues under full compliance with</div>
<div class="src" style="left:22px;top:526.5px;font-size:14.6px;line-height:17.3px;transform:scaleY(1.045);transform-origin:0 13.7px;white-space:nowrap;">actual collection</div>
<div class="src" style="left:22.3px;top:1060.7px;font-size:15.3px;line-height:18px;transform:scaleY(1.045);transform-origin:0 14.3px;white-space:nowrap;">Source: Ministry of Finance, Eurostat, ADA Economics in association with WOOD Research</div>
</body></html>
